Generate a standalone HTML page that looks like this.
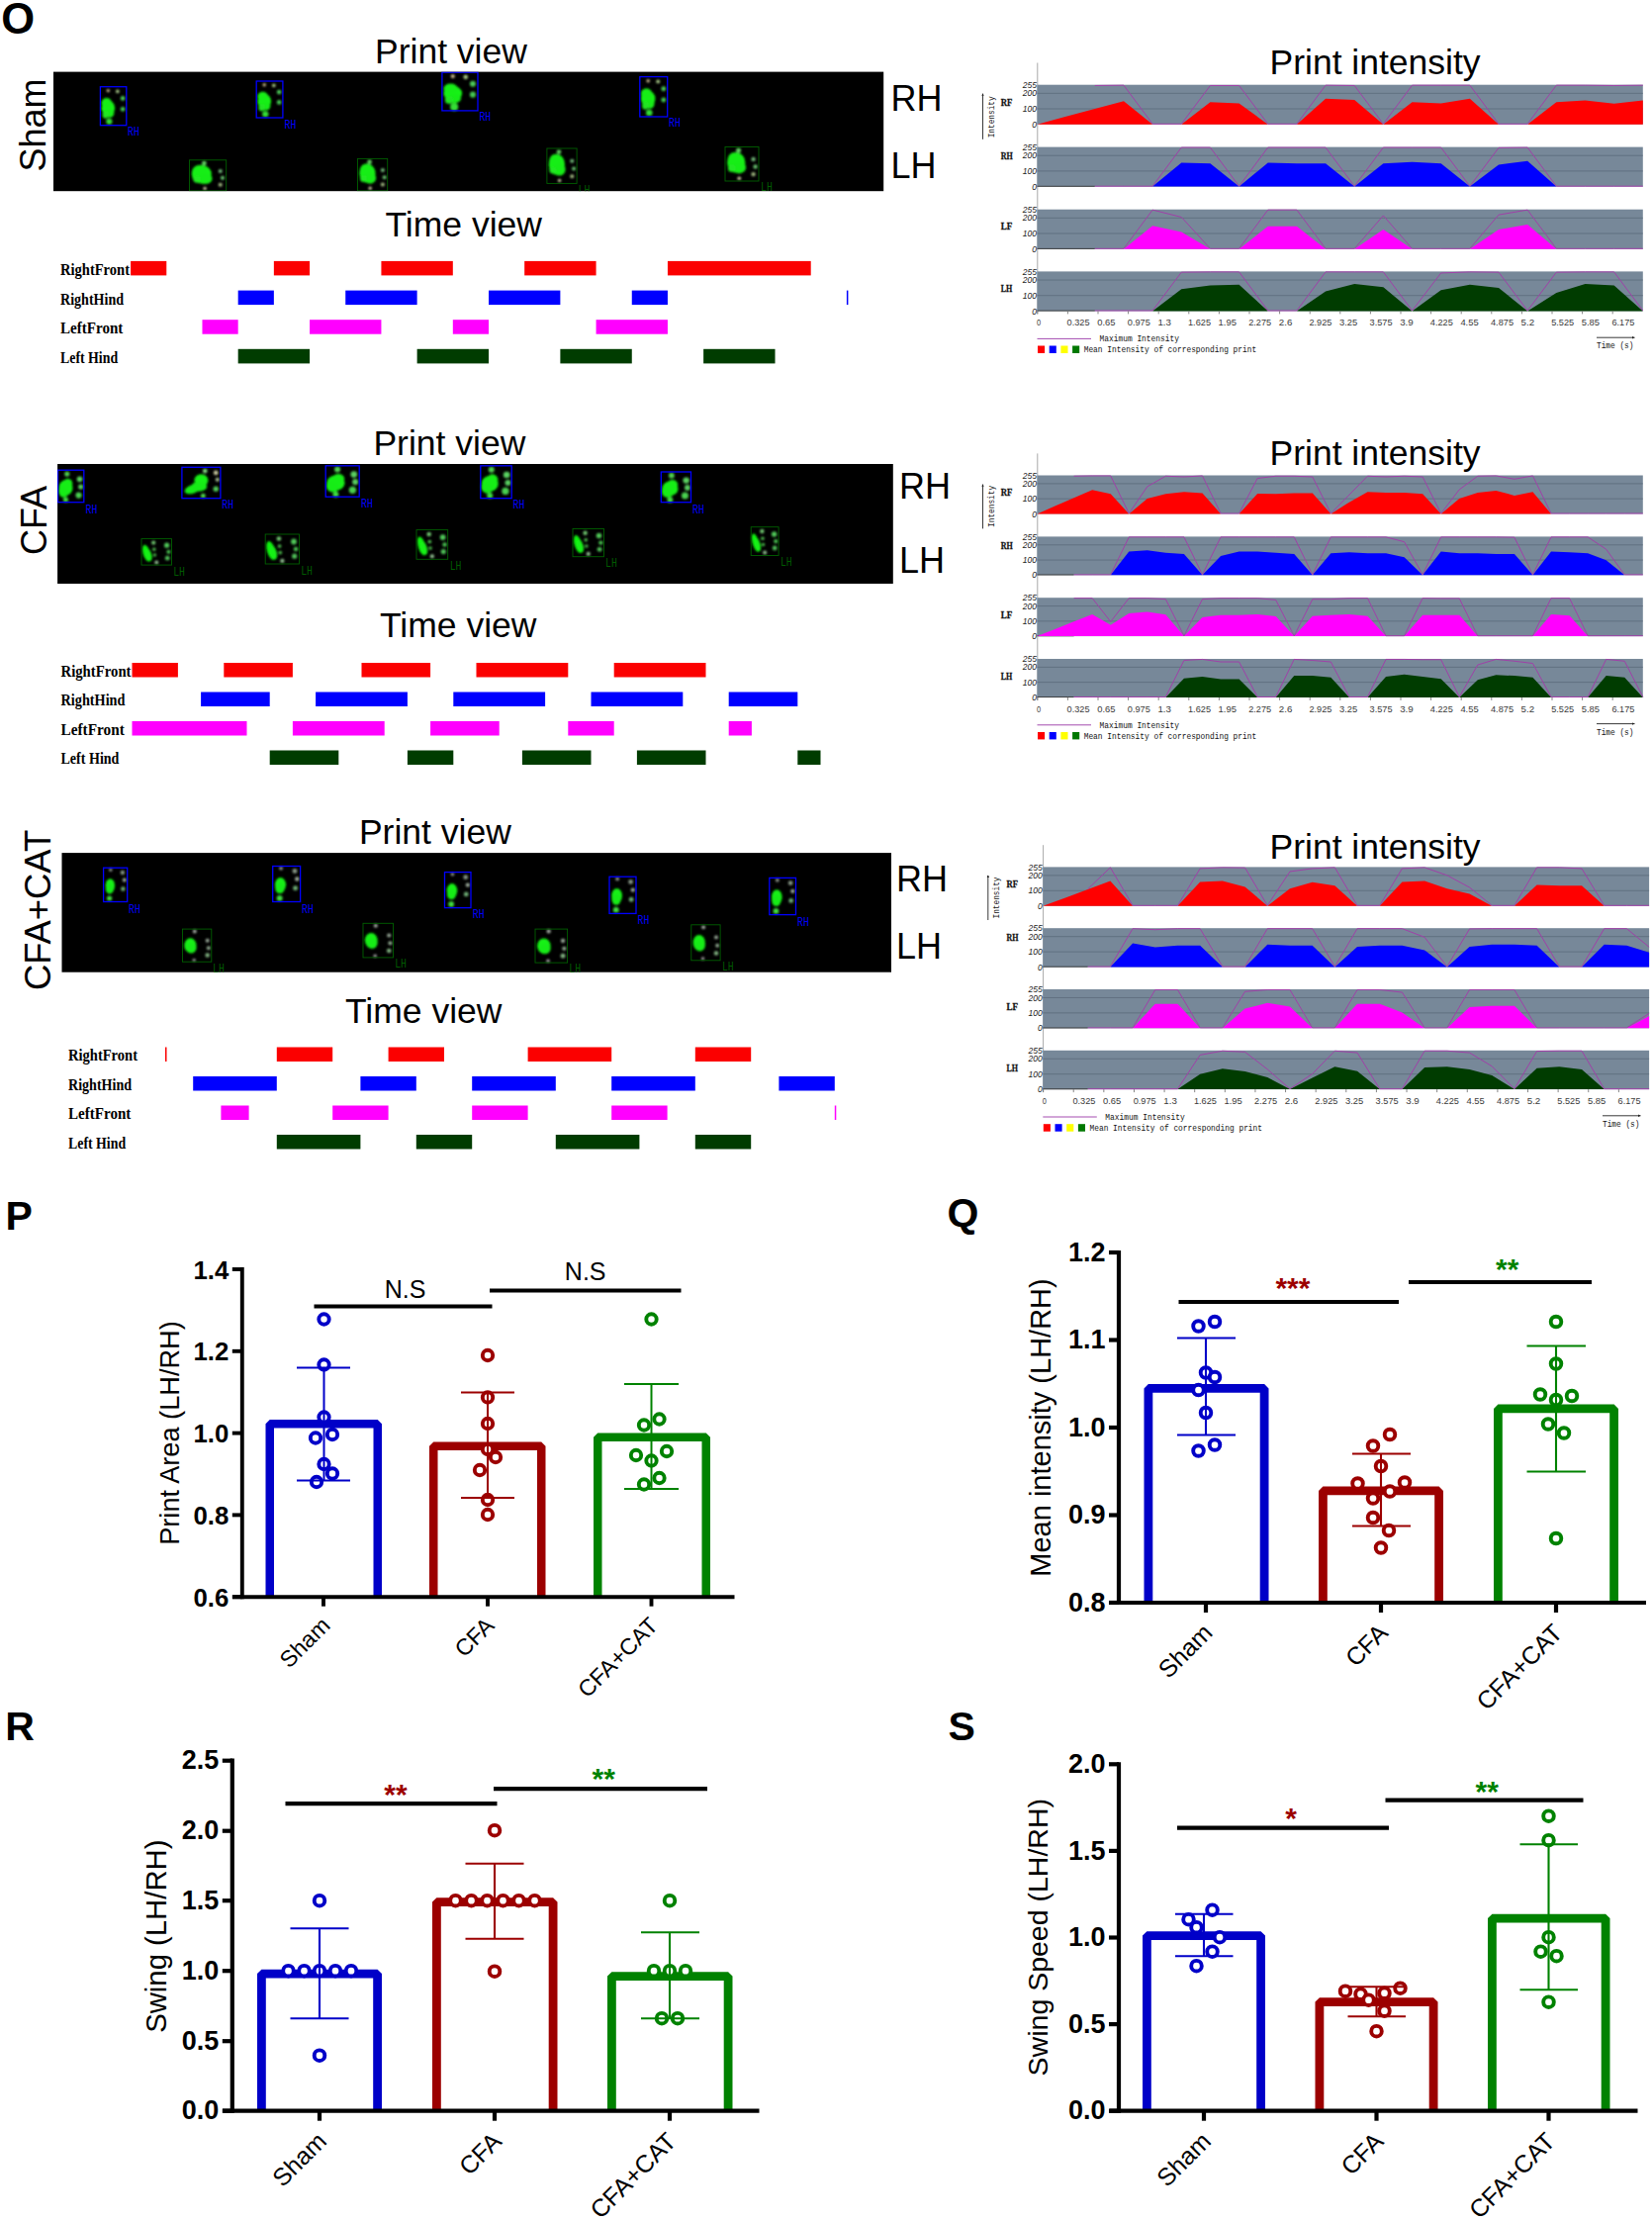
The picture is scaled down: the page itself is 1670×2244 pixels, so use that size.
<!DOCTYPE html>
<html lang="en"><head><meta charset="utf-8"><title>Figure O-S</title>
<style>html,body{margin:0;padding:0;background:#fff}svg{display:block}</style></head><body>
<svg width="1670" height="2244" viewBox="0 0 1670 2244">
<defs><filter id="b1" x="-30%" y="-30%" width="160%" height="160%"><feGaussianBlur stdDeviation="1.0"/></filter><filter id="b2" x="-10%" y="-10%" width="120%" height="120%"><feGaussianBlur stdDeviation="0.35"/></filter></defs>
<rect x="0" y="0" width="1670" height="2244" fill="#fff"/>
<text x="1.2" y="34.3" font-family='"Liberation Sans", sans-serif' font-size="43.5" font-weight="bold" font-style="normal" fill="#000" text-anchor="start" >O</text>
<text x="5.4" y="1243.2" font-family='"Liberation Sans", sans-serif' font-size="41" font-weight="bold" font-style="normal" fill="#000" text-anchor="start" >P</text>
<text x="957.6" y="1239.8" font-family='"Liberation Sans", sans-serif' font-size="41" font-weight="bold" font-style="normal" fill="#000" text-anchor="start" >Q</text>
<text x="5.2" y="1758.6" font-family='"Liberation Sans", sans-serif' font-size="41" font-weight="bold" font-style="normal" fill="#000" text-anchor="start" >R</text>
<text x="958.6" y="1758.6" font-family='"Liberation Sans", sans-serif' font-size="41" font-weight="bold" font-style="normal" fill="#000" text-anchor="start" >S</text>
<rect x="54" y="72.6" width="839.2" height="120.6" fill="#000" />
<clipPath id="pvS"><rect x="54" y="72.6" width="839.2" height="120.6"/></clipPath>
<g clip-path="url(#pvS)">
<g filter="url(#b1)">
<ellipse cx="109.32" cy="109.15" rx="6.86" ry="7.8" fill="#12f212"/>
<ellipse cx="107.74" cy="104.08" rx="5.28" ry="5.07" fill="#16ee16"/>
<ellipse cx="110.9" cy="114.22" rx="4.49" ry="4.68" fill="#18ec18"/>
<ellipse cx="106.68" cy="115.78" rx="3.17" ry="3.9" fill="#22e422"/>
<circle cx="110.38" cy="122.8" r="3.14" fill="#34de34"/>
<circle cx="124.1" cy="99.4" r="2.35" fill="#4cc858"/>
<circle cx="124.1" cy="110.32" r="2.35" fill="#44c652"/>
<circle cx="118.82" cy="92.38" r="1.82" fill="#a8c888"/>
<circle cx="109.32" cy="91.6" r="1.69" fill="#c8b890"/>
</g>
<rect x="101.4" y="87.7" width="26.4" height="39" fill="none" stroke="#0000ff" stroke-width="1.3"/>
<text x="129" y="137" font-family='"Liberation Mono", monospace' font-size="12" font-weight="normal" font-style="normal" fill="#0000ff" text-anchor="start" textLength="11.8" lengthAdjust="spacingAndGlyphs">RH</text>
<g filter="url(#b1)">
<ellipse cx="267.21" cy="102.35" rx="6.94" ry="7.4" fill="#12f212"/>
<ellipse cx="265.61" cy="97.54" rx="5.34" ry="4.81" fill="#16ee16"/>
<ellipse cx="268.81" cy="107.16" rx="4.54" ry="4.44" fill="#18ec18"/>
<ellipse cx="264.54" cy="108.64" rx="3.2" ry="3.7" fill="#22e422"/>
<circle cx="268.28" cy="115.3" r="3.17" fill="#34de34"/>
<circle cx="282.16" cy="93.1" r="2.37" fill="#4cc858"/>
<circle cx="282.16" cy="103.46" r="2.37" fill="#44c652"/>
<circle cx="276.82" cy="86.44" r="1.83" fill="#a8c888"/>
<circle cx="267.21" cy="85.7" r="1.7" fill="#c8b890"/>
</g>
<rect x="259.2" y="82" width="26.7" height="37" fill="none" stroke="#0000ff" stroke-width="1.3"/>
<text x="287.6" y="130" font-family='"Liberation Mono", monospace' font-size="12" font-weight="normal" font-style="normal" fill="#0000ff" text-anchor="start" textLength="11.8" lengthAdjust="spacingAndGlyphs">RH</text>
<g filter="url(#b1)">
<ellipse cx="457.73" cy="94.49" rx="9.39" ry="7.74" fill="#12f212"/>
<ellipse cx="455.56" cy="89.45" rx="7.22" ry="5.03" fill="#16ee16"/>
<ellipse cx="459.9" cy="99.52" rx="6.14" ry="4.64" fill="#18ec18"/>
<ellipse cx="454.12" cy="101.06" rx="4.33" ry="3.87" fill="#22e422"/>
<circle cx="459.17" cy="108.03" r="4.11" fill="#34de34"/>
<circle cx="477.95" cy="84.81" r="3.03" fill="#4cc858"/>
<circle cx="477.95" cy="95.65" r="3.03" fill="#44c652"/>
<circle cx="470.73" cy="77.84" r="2.31" fill="#a8c888"/>
<circle cx="457.73" cy="77.07" r="2.12" fill="#c8b890"/>
</g>
<rect x="446.9" y="73.2" width="36.1" height="38.7" fill="none" stroke="#0000ff" stroke-width="1.3"/>
<text x="484.4" y="122" font-family='"Liberation Mono", monospace' font-size="12" font-weight="normal" font-style="normal" fill="#0000ff" text-anchor="start" textLength="11.8" lengthAdjust="spacingAndGlyphs">RH</text>
<g filter="url(#b1)">
<ellipse cx="655.17" cy="99.82" rx="7.25" ry="8.08" fill="#12f212"/>
<ellipse cx="653.5" cy="94.57" rx="5.58" ry="5.25" fill="#16ee16"/>
<ellipse cx="656.84" cy="105.07" rx="4.74" ry="4.85" fill="#18ec18"/>
<ellipse cx="652.38" cy="106.69" rx="3.35" ry="4.04" fill="#22e422"/>
<circle cx="656.29" cy="113.96" r="3.29" fill="#34de34"/>
<circle cx="670.79" cy="89.72" r="2.45" fill="#4cc858"/>
<circle cx="670.79" cy="101.03" r="2.45" fill="#44c652"/>
<circle cx="665.21" cy="82.45" r="1.9" fill="#a8c888"/>
<circle cx="655.17" cy="81.64" r="1.76" fill="#c8b890"/>
</g>
<rect x="646.8" y="77.6" width="27.9" height="40.4" fill="none" stroke="#0000ff" stroke-width="1.3"/>
<text x="676" y="128.4" font-family='"Liberation Mono", monospace' font-size="12" font-weight="normal" font-style="normal" fill="#0000ff" text-anchor="start" textLength="11.8" lengthAdjust="spacingAndGlyphs">RH</text>
<g filter="url(#b1)">
<ellipse cx="203.78" cy="176.11" rx="10.04" ry="9.33" fill="#12f212"/>
<ellipse cx="201.92" cy="173" rx="7.44" ry="6.22" fill="#16ee16"/>
<ellipse cx="207.12" cy="180.46" rx="7.44" ry="5.6" fill="#18ec18"/>
<circle cx="198.94" cy="181.08" r="3.61" fill="#20e820"/>
<circle cx="206.38" cy="164.91" r="2.37" fill="#60d060"/>
<circle cx="222.75" cy="173" r="2.05" fill="#70b878"/>
<circle cx="224.98" cy="179.84" r="2.05" fill="#68c070"/>
<circle cx="222.75" cy="186.68" r="2.05" fill="#a0b880"/>
<circle cx="207.12" cy="190.41" r="1.74" fill="#c8c8a0"/>
</g>
<rect x="191.5" y="161.8" width="37.2" height="31.1" fill="none" stroke="#006000" stroke-width="0.9"/>
<g filter="url(#b1)">
<ellipse cx="371.47" cy="175.35" rx="8.15" ry="9.75" fill="#12f212"/>
<ellipse cx="369.96" cy="172.1" rx="6.04" ry="6.5" fill="#16ee16"/>
<ellipse cx="374.18" cy="179.9" rx="6.04" ry="5.85" fill="#18ec18"/>
<circle cx="367.54" cy="180.55" r="3.52" fill="#20e820"/>
<circle cx="373.58" cy="163.65" r="2.31" fill="#60d060"/>
<circle cx="386.87" cy="172.1" r="2.01" fill="#70b878"/>
<circle cx="388.68" cy="179.25" r="2.01" fill="#68c070"/>
<circle cx="386.87" cy="186.4" r="2.01" fill="#a0b880"/>
<circle cx="374.18" cy="190.3" r="1.71" fill="#c8c8a0"/>
</g>
<rect x="361.5" y="160.4" width="30.2" height="32.5" fill="none" stroke="#006000" stroke-width="0.9"/>
<g filter="url(#b1)">
<ellipse cx="562.87" cy="166.28" rx="8.15" ry="10.62" fill="#12f212"/>
<ellipse cx="561.36" cy="162.74" rx="6.04" ry="7.08" fill="#16ee16"/>
<ellipse cx="565.58" cy="171.24" rx="6.04" ry="6.37" fill="#18ec18"/>
<circle cx="558.94" cy="171.95" r="3.52" fill="#20e820"/>
<circle cx="564.98" cy="153.54" r="2.31" fill="#60d060"/>
<circle cx="578.27" cy="162.74" r="2.01" fill="#70b878"/>
<circle cx="580.08" cy="170.53" r="2.01" fill="#68c070"/>
<circle cx="578.27" cy="178.32" r="2.01" fill="#a0b880"/>
<circle cx="565.58" cy="182.57" r="1.71" fill="#c8c8a0"/>
</g>
<rect x="552.9" y="150" width="30.2" height="35.4" fill="none" stroke="#006000" stroke-width="0.9"/>
<text x="584.6" y="196" font-family='"Liberation Mono", monospace' font-size="12" font-weight="normal" font-style="normal" fill="#005a00" text-anchor="start" textLength="11.8" lengthAdjust="spacingAndGlyphs">LH</text>
<g filter="url(#b1)">
<ellipse cx="744.22" cy="164.37" rx="9.18" ry="10.35" fill="#12f212"/>
<ellipse cx="742.52" cy="160.92" rx="6.8" ry="6.9" fill="#16ee16"/>
<ellipse cx="747.28" cy="169.2" rx="6.8" ry="6.21" fill="#18ec18"/>
<circle cx="739.8" cy="169.89" r="3.9" fill="#20e820"/>
<circle cx="746.6" cy="151.95" r="2.54" fill="#60d060"/>
<circle cx="761.56" cy="160.92" r="2.2" fill="#70b878"/>
<circle cx="763.6" cy="168.51" r="2.2" fill="#68c070"/>
<circle cx="761.56" cy="176.1" r="2.2" fill="#a0b880"/>
<circle cx="747.28" cy="180.24" r="1.86" fill="#c8c8a0"/>
</g>
<rect x="733" y="148.5" width="34" height="34.5" fill="none" stroke="#006000" stroke-width="0.9"/>
<text x="769" y="193.4" font-family='"Liberation Mono", monospace' font-size="12" font-weight="normal" font-style="normal" fill="#005a00" text-anchor="start" textLength="11.8" lengthAdjust="spacingAndGlyphs">LH</text>
</g>
<text x="379" y="64" font-family='"Liberation Sans", sans-serif' font-size="35.5" font-weight="normal" font-style="normal" fill="#000" text-anchor="start" >Print view</text>
<text x="389.5" y="239" font-family='"Liberation Sans", sans-serif' font-size="35.5" font-weight="normal" font-style="normal" fill="#000" text-anchor="start" >Time view</text>
<text x="900.4" y="111.8" font-family='"Liberation Sans", sans-serif' font-size="36" font-weight="normal" font-style="normal" fill="#000" text-anchor="start" >RH</text>
<text x="900.4" y="179.7" font-family='"Liberation Sans", sans-serif' font-size="36" font-weight="normal" font-style="normal" fill="#000" text-anchor="start" >LH</text>
<text transform="translate(45.6 173.5) rotate(-90)" font-family='"Liberation Sans", sans-serif' font-size="36" font-weight="normal" fill="#000" text-anchor="start" >Sham</text>
<rect x="58.1" y="469" width="844.7" height="121" fill="#000" />
<clipPath id="pvC"><rect x="58.1" y="469" width="844.7" height="121"/></clipPath>
<g clip-path="url(#pvC)">
<g filter="url(#b1)">
<ellipse cx="66.46" cy="493.07" rx="7.07" ry="7.8" fill="#12f212"/>
<ellipse cx="64.36" cy="496.32" rx="5.24" ry="6.5" fill="#18ec18"/>
<ellipse cx="68.56" cy="488.85" rx="4.72" ry="5.2" fill="#16ee16"/>
<circle cx="67.77" cy="479.1" r="2.6" fill="#50d050"/>
<circle cx="80.61" cy="484.3" r="2.86" fill="#5ad060"/>
<circle cx="81.66" cy="492.1" r="2.6" fill="#58cc60"/>
<circle cx="79.56" cy="500.55" r="3.12" fill="#48d050"/>
<circle cx="66.46" cy="505.1" r="2.6" fill="#40dc40"/>
</g>
<rect x="58.6" y="475.2" width="26.2" height="32.5" fill="none" stroke="#0000ff" stroke-width="1.3"/>
<text x="86.6" y="518.8" font-family='"Liberation Mono", monospace' font-size="12" font-weight="normal" font-style="normal" fill="#0000ff" text-anchor="start" textLength="11.8" lengthAdjust="spacingAndGlyphs">RH</text>
<g filter="url(#b1)">
<ellipse cx="203.4" cy="485.49" rx="7.02" ry="6.28" fill="#12f212"/>
<ellipse cx="194.82" cy="494.28" rx="8.58" ry="4.4" fill="#16ee16" transform="rotate(-20 194.82 494.28)"/>
<ellipse cx="201.45" cy="491.77" rx="7.8" ry="5.02" fill="#18ec18"/>
<circle cx="207.3" cy="476.07" r="2.38" fill="#80d880"/>
<circle cx="218.22" cy="477.95" r="2.38" fill="#c8c8a0"/>
<circle cx="219.78" cy="484.86" r="2.07" fill="#a0b890"/>
<circle cx="218.22" cy="494.28" r="2.7" fill="#50c858"/>
<circle cx="205.35" cy="501.19" r="2.38" fill="#50d850"/>
</g>
<rect x="183.9" y="472.3" width="39" height="31.4" fill="none" stroke="#0000ff" stroke-width="1.3"/>
<text x="224.3" y="514.4" font-family='"Liberation Mono", monospace' font-size="12" font-weight="normal" font-style="normal" fill="#0000ff" text-anchor="start" textLength="11.8" lengthAdjust="spacingAndGlyphs">RH</text>
<g filter="url(#b1)">
<ellipse cx="339.4" cy="488.07" rx="9.18" ry="7.54" fill="#12f212"/>
<ellipse cx="336.68" cy="491.21" rx="6.8" ry="6.28" fill="#18ec18"/>
<ellipse cx="342.12" cy="483.99" rx="6.12" ry="5.02" fill="#16ee16"/>
<circle cx="341.1" cy="474.57" r="3.01" fill="#50d050"/>
<circle cx="357.76" cy="479.59" r="3.33" fill="#5ad060"/>
<circle cx="359.12" cy="487.13" r="3.01" fill="#58cc60"/>
<circle cx="356.4" cy="495.29" r="3.64" fill="#48d050"/>
<circle cx="339.4" cy="499.69" r="3.01" fill="#40dc40"/>
</g>
<rect x="329.2" y="470.8" width="34" height="31.4" fill="none" stroke="#0000ff" stroke-width="1.3"/>
<text x="365" y="513" font-family='"Liberation Mono", monospace' font-size="12" font-weight="normal" font-style="normal" fill="#0000ff" text-anchor="start" textLength="11.8" lengthAdjust="spacingAndGlyphs">RH</text>
<g filter="url(#b1)">
<ellipse cx="495.22" cy="488.89" rx="8.48" ry="7.9" fill="#12f212"/>
<ellipse cx="492.71" cy="492.19" rx="6.28" ry="6.58" fill="#18ec18"/>
<ellipse cx="497.73" cy="484.62" rx="5.65" ry="5.26" fill="#16ee16"/>
<circle cx="496.79" cy="474.75" r="3.01" fill="#50d050"/>
<circle cx="512.18" cy="480.01" r="3.33" fill="#5ad060"/>
<circle cx="513.43" cy="487.91" r="3.01" fill="#58cc60"/>
<circle cx="510.92" cy="496.46" r="3.64" fill="#48d050"/>
<circle cx="495.22" cy="501.07" r="3.01" fill="#40dc40"/>
</g>
<rect x="485.8" y="470.8" width="31.4" height="32.9" fill="none" stroke="#0000ff" stroke-width="1.3"/>
<text x="518.6" y="514.4" font-family='"Liberation Mono", monospace' font-size="12" font-weight="normal" font-style="normal" fill="#0000ff" text-anchor="start" textLength="11.8" lengthAdjust="spacingAndGlyphs">RH</text>
<g filter="url(#b1)">
<ellipse cx="677.36" cy="493.88" rx="8.15" ry="7.37" fill="#12f212"/>
<ellipse cx="674.94" cy="496.95" rx="6.04" ry="6.14" fill="#18ec18"/>
<ellipse cx="679.78" cy="489.89" rx="5.44" ry="4.91" fill="#16ee16"/>
<circle cx="678.87" cy="480.68" r="2.92" fill="#50d050"/>
<circle cx="693.67" cy="485.6" r="3.22" fill="#5ad060"/>
<circle cx="694.88" cy="492.96" r="2.92" fill="#58cc60"/>
<circle cx="692.46" cy="500.95" r="3.52" fill="#48d050"/>
<circle cx="677.36" cy="505.24" r="2.92" fill="#40dc40"/>
</g>
<rect x="668.3" y="477" width="30.2" height="30.7" fill="none" stroke="#0000ff" stroke-width="1.3"/>
<text x="700" y="518.8" font-family='"Liberation Mono", monospace' font-size="12" font-weight="normal" font-style="normal" fill="#0000ff" text-anchor="start" textLength="11.8" lengthAdjust="spacingAndGlyphs">RH</text>
<g filter="url(#b1)">
<ellipse cx="148.19" cy="559.18" rx="3.66" ry="8.75" fill="#10f410" transform="rotate(-16 148.19 559.18)"/>
<ellipse cx="150.32" cy="561.03" rx="3.05" ry="6.36" fill="#14f014" transform="rotate(-16 150.32 561.03)"/>
<circle cx="155.2" cy="548.58" r="2.09" fill="#70c870"/>
<circle cx="155.81" cy="555.2" r="1.69" fill="#50c050"/>
<circle cx="156.42" cy="561.03" r="1.69" fill="#48b848"/>
<circle cx="158.25" cy="568.45" r="1.96" fill="#90c090"/>
<circle cx="168.62" cy="551.23" r="2.62" fill="#50c858"/>
<circle cx="170.45" cy="557.85" r="2.09" fill="#48c050"/>
<circle cx="169.23" cy="564.21" r="2.36" fill="#50c058"/>
</g>
<rect x="143" y="544.6" width="30.5" height="26.5" fill="none" stroke="#006000" stroke-width="0.9"/>
<text x="175.2" y="582" font-family='"Liberation Mono", monospace' font-size="12" font-weight="normal" font-style="normal" fill="#005a00" text-anchor="start" textLength="11.8" lengthAdjust="spacingAndGlyphs">LH</text>
<g filter="url(#b1)">
<ellipse cx="274.03" cy="556.5" rx="4.12" ry="9.9" fill="#10f410" transform="rotate(-16 274.03 556.5)"/>
<ellipse cx="276.43" cy="558.6" rx="3.43" ry="7.2" fill="#14f014" transform="rotate(-16 276.43 558.6)"/>
<circle cx="281.92" cy="544.5" r="2.3" fill="#70c870"/>
<circle cx="282.61" cy="552" r="1.85" fill="#50c050"/>
<circle cx="283.29" cy="558.6" r="1.85" fill="#48b848"/>
<circle cx="285.35" cy="567" r="2.15" fill="#90c090"/>
<circle cx="297.01" cy="547.5" r="2.9" fill="#50c858"/>
<circle cx="299.07" cy="555" r="2.3" fill="#48c050"/>
<circle cx="297.7" cy="562.2" r="2.6" fill="#50c058"/>
</g>
<rect x="268.2" y="540" width="34.3" height="30" fill="none" stroke="#006000" stroke-width="0.9"/>
<text x="304.2" y="580.7" font-family='"Liberation Mono", monospace' font-size="12" font-weight="normal" font-style="normal" fill="#005a00" text-anchor="start" textLength="11.8" lengthAdjust="spacingAndGlyphs">LH</text>
<g filter="url(#b1)">
<ellipse cx="426.39" cy="551.93" rx="3.8" ry="9.8" fill="#10f410" transform="rotate(-16 426.39 551.93)"/>
<ellipse cx="428.61" cy="554.01" rx="3.17" ry="7.13" fill="#14f014" transform="rotate(-16 428.61 554.01)"/>
<circle cx="433.68" cy="540.06" r="2.28" fill="#70c870"/>
<circle cx="434.31" cy="547.48" r="1.84" fill="#50c050"/>
<circle cx="434.95" cy="554.01" r="1.84" fill="#48b848"/>
<circle cx="436.85" cy="562.33" r="2.13" fill="#90c090"/>
<circle cx="447.63" cy="543.02" r="2.88" fill="#50c858"/>
<circle cx="449.53" cy="550.45" r="2.28" fill="#48c050"/>
<circle cx="448.26" cy="557.58" r="2.58" fill="#50c058"/>
</g>
<rect x="421" y="535.6" width="31.7" height="29.7" fill="none" stroke="#006000" stroke-width="0.9"/>
<text x="454.7" y="576.3" font-family='"Liberation Mono", monospace' font-size="12" font-weight="normal" font-style="normal" fill="#005a00" text-anchor="start" textLength="11.8" lengthAdjust="spacingAndGlyphs">LH</text>
<g filter="url(#b1)">
<ellipse cx="584.36" cy="550.01" rx="3.78" ry="9.31" fill="#10f410" transform="rotate(-16 584.36 550.01)"/>
<ellipse cx="586.56" cy="551.98" rx="3.15" ry="6.77" fill="#14f014" transform="rotate(-16 586.56 551.98)"/>
<circle cx="591.6" cy="538.73" r="2.19" fill="#70c870"/>
<circle cx="592.23" cy="545.78" r="1.77" fill="#50c050"/>
<circle cx="592.86" cy="551.98" r="1.77" fill="#48b848"/>
<circle cx="594.75" cy="559.88" r="2.05" fill="#90c090"/>
<circle cx="605.46" cy="541.55" r="2.76" fill="#50c858"/>
<circle cx="607.35" cy="548.6" r="2.19" fill="#48c050"/>
<circle cx="606.09" cy="555.37" r="2.47" fill="#50c058"/>
</g>
<rect x="579" y="534.5" width="31.5" height="28.2" fill="none" stroke="#006000" stroke-width="0.9"/>
<text x="612" y="573.4" font-family='"Liberation Mono", monospace' font-size="12" font-weight="normal" font-style="normal" fill="#005a00" text-anchor="start" textLength="11.8" lengthAdjust="spacingAndGlyphs">LH</text>
<g filter="url(#b1)">
<ellipse cx="763.94" cy="548.54" rx="3.35" ry="9.5" fill="#10f410" transform="rotate(-16 763.94 548.54)"/>
<ellipse cx="765.9" cy="550.56" rx="2.79" ry="6.91" fill="#14f014" transform="rotate(-16 765.9 550.56)"/>
<circle cx="770.36" cy="537.02" r="2.17" fill="#70c870"/>
<circle cx="770.92" cy="544.22" r="1.76" fill="#50c050"/>
<circle cx="771.48" cy="550.56" r="1.76" fill="#48b848"/>
<circle cx="773.15" cy="558.62" r="2.03" fill="#90c090"/>
<circle cx="782.64" cy="539.9" r="2.73" fill="#50c858"/>
<circle cx="784.31" cy="547.1" r="2.17" fill="#48c050"/>
<circle cx="783.19" cy="554.01" r="2.45" fill="#50c058"/>
</g>
<rect x="759.2" y="532.7" width="27.9" height="28.8" fill="none" stroke="#006000" stroke-width="0.9"/>
<text x="788.9" y="572" font-family='"Liberation Mono", monospace' font-size="12" font-weight="normal" font-style="normal" fill="#005a00" text-anchor="start" textLength="11.8" lengthAdjust="spacingAndGlyphs">LH</text>
</g>
<text x="377.4" y="459.8" font-family='"Liberation Sans", sans-serif' font-size="35.5" font-weight="normal" font-style="normal" fill="#000" text-anchor="start" >Print view</text>
<text x="384" y="644" font-family='"Liberation Sans", sans-serif' font-size="35.5" font-weight="normal" font-style="normal" fill="#000" text-anchor="start" >Time view</text>
<text x="909" y="504.2" font-family='"Liberation Sans", sans-serif' font-size="36" font-weight="normal" font-style="normal" fill="#000" text-anchor="start" >RH</text>
<text x="909" y="578.6" font-family='"Liberation Sans", sans-serif' font-size="36" font-weight="normal" font-style="normal" fill="#000" text-anchor="start" >LH</text>
<text transform="translate(47.4 561) rotate(-90)" font-family='"Liberation Sans", sans-serif' font-size="36" font-weight="normal" fill="#000" text-anchor="start" >CFA</text>
<rect x="62.5" y="862.1" width="838.5" height="120.6" fill="#000" />
<clipPath id="pvT"><rect x="62.5" y="862.1" width="838.5" height="120.6"/></clipPath>
<g clip-path="url(#pvT)">
<g filter="url(#b1)">
<ellipse cx="111.35" cy="895.04" rx="4.82" ry="6.86" fill="#12f212"/>
<ellipse cx="110.87" cy="898.47" rx="4.1" ry="5.14" fill="#18ec18"/>
<circle cx="110.62" cy="908.07" r="2.67" fill="#40dc40"/>
<circle cx="123.88" cy="882" r="2.19" fill="#889888"/>
<circle cx="125.81" cy="889.55" r="1.95" fill="#a0b0a0"/>
<circle cx="124.36" cy="898.47" r="2.19" fill="#70b078"/>
<circle cx="111.83" cy="879.26" r="1.7" fill="#909890"/>
</g>
<rect x="104.6" y="877.2" width="24.1" height="34.3" fill="none" stroke="#0000ff" stroke-width="1.3"/>
<text x="130" y="922.6" font-family='"Liberation Mono", monospace' font-size="12" font-weight="normal" font-style="normal" fill="#0000ff" text-anchor="start" textLength="11.8" lengthAdjust="spacingAndGlyphs">RH</text>
<g filter="url(#b1)">
<ellipse cx="283.51" cy="894.22" rx="5.58" ry="7.2" fill="#12f212"/>
<ellipse cx="282.95" cy="897.82" rx="4.74" ry="5.4" fill="#18ec18"/>
<circle cx="282.68" cy="907.9" r="3.01" fill="#40dc40"/>
<circle cx="298.02" cy="880.54" r="2.45" fill="#889888"/>
<circle cx="300.25" cy="888.46" r="2.17" fill="#a0b0a0"/>
<circle cx="298.58" cy="897.82" r="2.45" fill="#70b078"/>
<circle cx="284.07" cy="877.66" r="1.9" fill="#909890"/>
</g>
<rect x="275.7" y="875.5" width="27.9" height="36" fill="none" stroke="#0000ff" stroke-width="1.3"/>
<text x="305" y="922.6" font-family='"Liberation Mono", monospace' font-size="12" font-weight="normal" font-style="normal" fill="#0000ff" text-anchor="start" textLength="11.8" lengthAdjust="spacingAndGlyphs">RH</text>
<g filter="url(#b1)">
<ellipse cx="456.92" cy="900.32" rx="5.3" ry="7.2" fill="#12f212"/>
<ellipse cx="456.39" cy="903.92" rx="4.5" ry="5.4" fill="#18ec18"/>
<circle cx="456.12" cy="914" r="2.88" fill="#40dc40"/>
<circle cx="470.7" cy="886.64" r="2.36" fill="#889888"/>
<circle cx="472.82" cy="894.56" r="2.09" fill="#a0b0a0"/>
<circle cx="471.23" cy="903.92" r="2.36" fill="#70b078"/>
<circle cx="457.45" cy="883.76" r="1.83" fill="#909890"/>
</g>
<rect x="449.5" y="881.6" width="26.5" height="36" fill="none" stroke="#0000ff" stroke-width="1.3"/>
<text x="477.8" y="928" font-family='"Liberation Mono", monospace' font-size="12" font-weight="normal" font-style="normal" fill="#0000ff" text-anchor="start" textLength="11.8" lengthAdjust="spacingAndGlyphs">RH</text>
<g filter="url(#b1)">
<ellipse cx="623.56" cy="905.54" rx="5.4" ry="7.44" fill="#12f212"/>
<ellipse cx="623.02" cy="909.26" rx="4.59" ry="5.58" fill="#18ec18"/>
<circle cx="622.75" cy="919.68" r="2.93" fill="#40dc40"/>
<circle cx="637.6" cy="891.41" r="2.39" fill="#889888"/>
<circle cx="639.76" cy="899.59" r="2.12" fill="#a0b0a0"/>
<circle cx="638.14" cy="909.26" r="2.39" fill="#70b078"/>
<circle cx="624.1" cy="888.43" r="1.85" fill="#909890"/>
</g>
<rect x="616" y="886.2" width="27" height="37.2" fill="none" stroke="#0000ff" stroke-width="1.3"/>
<text x="644.5" y="934.2" font-family='"Liberation Mono", monospace' font-size="12" font-weight="normal" font-style="normal" fill="#0000ff" text-anchor="start" textLength="11.8" lengthAdjust="spacingAndGlyphs">RH</text>
<g filter="url(#b1)">
<ellipse cx="785.28" cy="906.74" rx="5.34" ry="7.44" fill="#12f212"/>
<ellipse cx="784.74" cy="910.46" rx="4.54" ry="5.58" fill="#18ec18"/>
<circle cx="784.47" cy="920.88" r="2.9" fill="#40dc40"/>
<circle cx="799.16" cy="892.61" r="2.37" fill="#889888"/>
<circle cx="801.3" cy="900.79" r="2.1" fill="#a0b0a0"/>
<circle cx="799.69" cy="910.46" r="2.37" fill="#70b078"/>
<circle cx="785.81" cy="889.63" r="1.84" fill="#909890"/>
</g>
<rect x="777.8" y="887.4" width="26.7" height="37.2" fill="none" stroke="#0000ff" stroke-width="1.3"/>
<text x="806" y="935.6" font-family='"Liberation Mono", monospace' font-size="12" font-weight="normal" font-style="normal" fill="#0000ff" text-anchor="start" textLength="11.8" lengthAdjust="spacingAndGlyphs">RH</text>
<g filter="url(#b1)">
<ellipse cx="192.41" cy="955.65" rx="6.15" ry="7.28" fill="#12f212"/>
<ellipse cx="193.29" cy="958.3" rx="5.27" ry="5.3" fill="#18ec18"/>
<circle cx="196.81" cy="941.42" r="1.97" fill="#a0a8a0"/>
<circle cx="209.7" cy="950.69" r="1.97" fill="#98a898"/>
<circle cx="210.87" cy="958.3" r="1.97" fill="#90a890"/>
<circle cx="209.7" cy="965.58" r="2.26" fill="#80b080"/>
<circle cx="196.22" cy="970.55" r="1.67" fill="#a0a0a0"/>
</g>
<rect x="184.5" y="939.1" width="29.3" height="33.1" fill="none" stroke="#006000" stroke-width="0.9"/>
<text x="215" y="982.7" font-family='"Liberation Mono", monospace' font-size="12" font-weight="normal" font-style="normal" fill="#005a00" text-anchor="start" textLength="11.8" lengthAdjust="spacingAndGlyphs">LH</text>
<g filter="url(#b1)">
<ellipse cx="375.24" cy="950.6" rx="6.4" ry="7.61" fill="#12f212"/>
<ellipse cx="376.15" cy="953.37" rx="5.49" ry="5.54" fill="#18ec18"/>
<circle cx="379.81" cy="935.72" r="2.03" fill="#a0a8a0"/>
<circle cx="393.23" cy="945.41" r="2.03" fill="#98a898"/>
<circle cx="394.45" cy="953.37" r="2.03" fill="#90a890"/>
<circle cx="393.23" cy="960.98" r="2.33" fill="#80b080"/>
<circle cx="379.2" cy="966.17" r="1.72" fill="#a0a0a0"/>
</g>
<rect x="367" y="933.3" width="30.5" height="34.6" fill="none" stroke="#006000" stroke-width="0.9"/>
<text x="399.2" y="978.4" font-family='"Liberation Mono", monospace' font-size="12" font-weight="normal" font-style="normal" fill="#005a00" text-anchor="start" textLength="11.8" lengthAdjust="spacingAndGlyphs">LH</text>
<g filter="url(#b1)">
<ellipse cx="549.8" cy="956.1" rx="6.85" ry="7.48" fill="#12f212"/>
<ellipse cx="550.78" cy="958.82" rx="5.87" ry="5.44" fill="#18ec18"/>
<circle cx="554.69" cy="941.48" r="2.13" fill="#a0a8a0"/>
<circle cx="569.04" cy="951" r="2.13" fill="#98a898"/>
<circle cx="570.34" cy="958.82" r="2.13" fill="#90a890"/>
<circle cx="569.04" cy="966.3" r="2.46" fill="#80b080"/>
<circle cx="554.04" cy="971.4" r="1.8" fill="#a0a0a0"/>
</g>
<rect x="541" y="939.1" width="32.6" height="34" fill="none" stroke="#006000" stroke-width="0.9"/>
<text x="575.3" y="982.7" font-family='"Liberation Mono", monospace' font-size="12" font-weight="normal" font-style="normal" fill="#005a00" text-anchor="start" textLength="11.8" lengthAdjust="spacingAndGlyphs">LH</text>
<g filter="url(#b1)">
<ellipse cx="706.71" cy="952.8" rx="6.15" ry="7.92" fill="#12f212"/>
<ellipse cx="707.59" cy="955.68" rx="5.27" ry="5.76" fill="#18ec18"/>
<circle cx="711.11" cy="937.32" r="1.97" fill="#a0a8a0"/>
<circle cx="724" cy="947.4" r="1.97" fill="#98a898"/>
<circle cx="725.17" cy="955.68" r="1.97" fill="#90a890"/>
<circle cx="724" cy="963.6" r="2.26" fill="#80b080"/>
<circle cx="710.52" cy="969" r="1.67" fill="#a0a0a0"/>
</g>
<rect x="698.8" y="934.8" width="29.3" height="36" fill="none" stroke="#006000" stroke-width="0.9"/>
<text x="729.9" y="981.3" font-family='"Liberation Mono", monospace' font-size="12" font-weight="normal" font-style="normal" fill="#005a00" text-anchor="start" textLength="11.8" lengthAdjust="spacingAndGlyphs">LH</text>
</g>
<text x="362.9" y="852.8" font-family='"Liberation Sans", sans-serif' font-size="35.5" font-weight="normal" font-style="normal" fill="#000" text-anchor="start" >Print view</text>
<text x="349" y="1033.5" font-family='"Liberation Sans", sans-serif' font-size="35.5" font-weight="normal" font-style="normal" fill="#000" text-anchor="start" >Time view</text>
<text x="906" y="900.5" font-family='"Liberation Sans", sans-serif' font-size="36" font-weight="normal" font-style="normal" fill="#000" text-anchor="start" >RH</text>
<text x="906" y="968.5" font-family='"Liberation Sans", sans-serif' font-size="36" font-weight="normal" font-style="normal" fill="#000" text-anchor="start" >LH</text>
<text transform="translate(51 1001) rotate(-90)" font-family='"Liberation Sans", sans-serif' font-size="36.4" font-weight="normal" fill="#000" text-anchor="start" >CFA+CAT</text>
<rect x="132.1" y="263.9" width="36.19" height="14.5" fill="#fb0000" />
<rect x="276.86" y="263.9" width="36.19" height="14.5" fill="#fb0000" />
<rect x="385.43" y="263.9" width="72.38" height="14.5" fill="#fb0000" />
<rect x="530.19" y="263.9" width="72.38" height="14.5" fill="#fb0000" />
<rect x="674.95" y="263.9" width="144.76" height="14.5" fill="#fb0000" />
<text x="61" y="277.8" font-family='"Liberation Serif", serif' font-size="17" font-weight="bold" font-style="normal" fill="#000" text-anchor="start" textLength="70" lengthAdjust="spacingAndGlyphs">RightFront</text>
<rect x="240.67" y="293.6" width="36.19" height="14.5" fill="#0000ff" />
<rect x="349.24" y="293.6" width="72.38" height="14.5" fill="#0000ff" />
<rect x="494" y="293.6" width="72.38" height="14.5" fill="#0000ff" />
<rect x="638.76" y="293.6" width="36.19" height="14.5" fill="#0000ff" />
<rect x="855.9" y="293.6" width="1.5" height="14.5" fill="#0000ff" />
<text x="61" y="307.5" font-family='"Liberation Serif", serif' font-size="17" font-weight="bold" font-style="normal" fill="#000" text-anchor="start" textLength="64.05" lengthAdjust="spacingAndGlyphs">RightHind</text>
<rect x="204.48" y="323.2" width="36.19" height="14.5" fill="#ff00ff" />
<rect x="313.05" y="323.2" width="72.38" height="14.5" fill="#ff00ff" />
<rect x="457.81" y="323.2" width="36.19" height="14.5" fill="#ff00ff" />
<rect x="602.57" y="323.2" width="72.38" height="14.5" fill="#ff00ff" />
<text x="61" y="337.1" font-family='"Liberation Serif", serif' font-size="17" font-weight="bold" font-style="normal" fill="#000" text-anchor="start" textLength="63.35" lengthAdjust="spacingAndGlyphs">LeftFront</text>
<rect x="240.67" y="352.8" width="72.38" height="14.6" fill="#003c00" />
<rect x="421.62" y="352.8" width="72.38" height="14.6" fill="#003c00" />
<rect x="566.38" y="352.8" width="72.38" height="14.6" fill="#003c00" />
<rect x="711.14" y="352.8" width="72.38" height="14.6" fill="#003c00" />
<text x="61" y="366.8" font-family='"Liberation Serif", serif' font-size="17" font-weight="bold" font-style="normal" fill="#000" text-anchor="start" textLength="58.1" lengthAdjust="spacingAndGlyphs">Left Hind</text>
<rect x="133.5" y="670" width="46.4" height="14.5" fill="#fb0000" />
<rect x="226.3" y="670" width="69.6" height="14.5" fill="#fb0000" />
<rect x="365.5" y="670" width="69.6" height="14.5" fill="#fb0000" />
<rect x="481.5" y="670" width="92.8" height="14.5" fill="#fb0000" />
<rect x="620.7" y="670" width="92.8" height="14.5" fill="#fb0000" />
<text x="61.5" y="683.9" font-family='"Liberation Serif", serif' font-size="17" font-weight="bold" font-style="normal" fill="#000" text-anchor="start" textLength="71" lengthAdjust="spacingAndGlyphs">RightFront</text>
<rect x="203.1" y="699.5" width="69.6" height="14.5" fill="#0000ff" />
<rect x="319.1" y="699.5" width="92.8" height="14.5" fill="#0000ff" />
<rect x="458.3" y="699.5" width="92.8" height="14.5" fill="#0000ff" />
<rect x="597.5" y="699.5" width="92.8" height="14.5" fill="#0000ff" />
<rect x="736.7" y="699.5" width="69.6" height="14.5" fill="#0000ff" />
<text x="61.5" y="713.4" font-family='"Liberation Serif", serif' font-size="17" font-weight="bold" font-style="normal" fill="#000" text-anchor="start" textLength="64.97" lengthAdjust="spacingAndGlyphs">RightHind</text>
<rect x="133.5" y="729" width="116" height="14.5" fill="#ff00ff" />
<rect x="295.9" y="729" width="92.8" height="14.5" fill="#ff00ff" />
<rect x="435.1" y="729" width="69.6" height="14.5" fill="#ff00ff" />
<rect x="574.3" y="729" width="46.4" height="14.5" fill="#ff00ff" />
<rect x="736.7" y="729" width="23.2" height="14.5" fill="#ff00ff" />
<text x="61.5" y="742.9" font-family='"Liberation Serif", serif' font-size="17" font-weight="bold" font-style="normal" fill="#000" text-anchor="start" textLength="64.25" lengthAdjust="spacingAndGlyphs">LeftFront</text>
<rect x="272.7" y="758.5" width="69.6" height="14.5" fill="#003c00" />
<rect x="411.9" y="758.5" width="46.4" height="14.5" fill="#003c00" />
<rect x="527.9" y="758.5" width="69.6" height="14.5" fill="#003c00" />
<rect x="643.9" y="758.5" width="69.6" height="14.5" fill="#003c00" />
<rect x="806.3" y="758.5" width="23.2" height="14.5" fill="#003c00" />
<text x="61.5" y="772.4" font-family='"Liberation Serif", serif' font-size="17" font-weight="bold" font-style="normal" fill="#000" text-anchor="start" textLength="58.93" lengthAdjust="spacingAndGlyphs">Left Hind</text>
<rect x="167" y="1058.5" width="1.5" height="14.5" fill="#fb0000" />
<rect x="279.8" y="1058.5" width="56.4" height="14.5" fill="#fb0000" />
<rect x="392.6" y="1058.5" width="56.4" height="14.5" fill="#fb0000" />
<rect x="533.6" y="1058.5" width="84.6" height="14.5" fill="#fb0000" />
<rect x="702.8" y="1058.5" width="56.4" height="14.5" fill="#fb0000" />
<text x="69" y="1072.4" font-family='"Liberation Serif", serif' font-size="17" font-weight="bold" font-style="normal" fill="#000" text-anchor="start" textLength="70" lengthAdjust="spacingAndGlyphs">RightFront</text>
<rect x="195.2" y="1088" width="84.6" height="14.5" fill="#0000ff" />
<rect x="364.4" y="1088" width="56.4" height="14.5" fill="#0000ff" />
<rect x="477.2" y="1088" width="84.6" height="14.5" fill="#0000ff" />
<rect x="618.2" y="1088" width="84.6" height="14.5" fill="#0000ff" />
<rect x="787.4" y="1088" width="56.4" height="14.5" fill="#0000ff" />
<text x="69" y="1101.9" font-family='"Liberation Serif", serif' font-size="17" font-weight="bold" font-style="normal" fill="#000" text-anchor="start" textLength="64.05" lengthAdjust="spacingAndGlyphs">RightHind</text>
<rect x="223.4" y="1117.5" width="28.2" height="14.5" fill="#ff00ff" />
<rect x="336.2" y="1117.5" width="56.4" height="14.5" fill="#ff00ff" />
<rect x="477.2" y="1117.5" width="56.4" height="14.5" fill="#ff00ff" />
<rect x="618.2" y="1117.5" width="56.4" height="14.5" fill="#ff00ff" />
<rect x="843.8" y="1117.5" width="1.5" height="14.5" fill="#ff00ff" />
<text x="69" y="1131.4" font-family='"Liberation Serif", serif' font-size="17" font-weight="bold" font-style="normal" fill="#000" text-anchor="start" textLength="63.35" lengthAdjust="spacingAndGlyphs">LeftFront</text>
<rect x="279.8" y="1147" width="84.6" height="14.5" fill="#003c00" />
<rect x="420.8" y="1147" width="56.4" height="14.5" fill="#003c00" />
<rect x="561.8" y="1147" width="84.6" height="14.5" fill="#003c00" />
<rect x="702.8" y="1147" width="56.4" height="14.5" fill="#003c00" />
<text x="69" y="1160.9" font-family='"Liberation Serif", serif' font-size="17" font-weight="bold" font-style="normal" fill="#000" text-anchor="start" textLength="58.1" lengthAdjust="spacingAndGlyphs">Left Hind</text>
<line x1="1048.8" y1="63.5" x2="1048.8" y2="317.4" stroke="#a9a9a9" stroke-width="1" />
<rect x="1048.5" y="85.7" width="612.3" height="40" fill="#778899" />
<line x1="1048.5" y1="110.01" x2="1660.8" y2="110.01" stroke="#5a6979" stroke-width="0.75" />
<line x1="1048.5" y1="94.33" x2="1660.8" y2="94.33" stroke="#5a6979" stroke-width="0.75" />
<polygon points="1048.5,125.7 1048.5,125.7 1077.66,117.86 1106.81,110.01 1135.97,102.33 1165.13,125.7 1194.29,125.7 1223.44,103.27 1252.6,104.52 1281.76,125.7 1310.91,125.7 1340.07,99.82 1369.23,101.07 1398.39,125.7 1427.54,103.27 1456.7,104.52 1485.86,99.82 1515.01,125.7 1544.17,125.7 1573.33,103.27 1602.49,101.54 1631.64,104.84 1660.8,101.54 1660.8,125.7" fill="#ff0000"/>
<polyline points="1106.81,86.48 1135.97,86.17 1165.13,125.3 1194.29,125.3 1223.44,86.48 1252.6,86.48 1281.76,125.3 1310.91,125.3 1340.07,86.17 1369.23,86.48 1398.39,125.3 1427.54,86.17 1456.7,86.17 1485.86,86.17 1515.01,125.3 1544.17,125.3 1573.33,86.17 1602.49,86.17 1631.64,86.48 1660.8,86.17" fill="none" stroke="#a040a8" stroke-width="1"/>
<text x="1047.9" y="88.8" font-family='"Liberation Sans", sans-serif' font-size="8.8" font-weight="normal" font-style="italic" fill="#222" text-anchor="end" textLength="14.25" lengthAdjust="spacingAndGlyphs">255</text>
<text x="1047.9" y="97.43" font-family='"Liberation Sans", sans-serif' font-size="8.8" font-weight="normal" font-style="italic" fill="#222" text-anchor="end" textLength="14.25" lengthAdjust="spacingAndGlyphs">200</text>
<text x="1047.9" y="113.11" font-family='"Liberation Sans", sans-serif' font-size="8.8" font-weight="normal" font-style="italic" fill="#222" text-anchor="end" textLength="14.25" lengthAdjust="spacingAndGlyphs">100</text>
<text x="1047.9" y="128.8" font-family='"Liberation Sans", sans-serif' font-size="8.8" font-weight="normal" font-style="italic" fill="#222" text-anchor="end" textLength="4.75" lengthAdjust="spacingAndGlyphs">0</text>
<text x="1011.7" y="106.6" font-family='"Liberation Serif", serif' font-size="11" font-weight="bold" font-style="normal" fill="#111" text-anchor="start" stroke="#111" stroke-width="0.3" textLength="11.6" lengthAdjust="spacingAndGlyphs">RF</text>
<rect x="1048.5" y="148.6" width="612.3" height="40" fill="#778899" />
<line x1="1048.5" y1="172.91" x2="1660.8" y2="172.91" stroke="#5a6979" stroke-width="0.75" />
<line x1="1048.5" y1="157.23" x2="1660.8" y2="157.23" stroke="#5a6979" stroke-width="0.75" />
<line x1="1048.5" y1="188.3" x2="1106.81" y2="188.3" stroke="#333" stroke-width="0.9" />
<polygon points="1048.5,188.6 1048.5,188.6 1077.66,188.6 1106.81,188.6 1135.97,188.6 1165.13,188.6 1194.29,164.44 1223.44,165.23 1252.6,188.6 1281.76,164.44 1310.91,165.23 1340.07,165.23 1369.23,188.6 1398.39,165.23 1427.54,163.66 1456.7,165.23 1485.86,188.6 1515.01,166.48 1544.17,162.72 1573.33,188.6 1602.49,188.6 1631.64,188.6 1660.8,188.6 1660.8,188.6" fill="#0000ff"/>
<polyline points="1106.81,188.2 1135.97,188.2 1165.13,188.2 1194.29,149.07 1223.44,149.07 1252.6,188.2 1281.76,149.07 1310.91,149.07 1340.07,149.07 1369.23,188.2 1398.39,149.07 1427.54,149.07 1456.7,149.07 1485.86,188.2 1515.01,149.38 1544.17,149.07 1573.33,188.2 1602.49,188.2 1631.64,188.2 1660.8,188.2" fill="none" stroke="#a040a8" stroke-width="1"/>
<text x="1047.9" y="151.7" font-family='"Liberation Sans", sans-serif' font-size="8.8" font-weight="normal" font-style="italic" fill="#222" text-anchor="end" textLength="14.25" lengthAdjust="spacingAndGlyphs">255</text>
<text x="1047.9" y="160.33" font-family='"Liberation Sans", sans-serif' font-size="8.8" font-weight="normal" font-style="italic" fill="#222" text-anchor="end" textLength="14.25" lengthAdjust="spacingAndGlyphs">200</text>
<text x="1047.9" y="176.01" font-family='"Liberation Sans", sans-serif' font-size="8.8" font-weight="normal" font-style="italic" fill="#222" text-anchor="end" textLength="14.25" lengthAdjust="spacingAndGlyphs">100</text>
<text x="1047.9" y="191.7" font-family='"Liberation Sans", sans-serif' font-size="8.8" font-weight="normal" font-style="italic" fill="#222" text-anchor="end" textLength="4.75" lengthAdjust="spacingAndGlyphs">0</text>
<text x="1011.7" y="161.3" font-family='"Liberation Serif", serif' font-size="11" font-weight="bold" font-style="normal" fill="#111" text-anchor="start" stroke="#111" stroke-width="0.3" textLength="12" lengthAdjust="spacingAndGlyphs">RH</text>
<rect x="1048.5" y="211.7" width="612.3" height="40" fill="#778899" />
<line x1="1048.5" y1="236.01" x2="1660.8" y2="236.01" stroke="#5a6979" stroke-width="0.75" />
<line x1="1048.5" y1="220.33" x2="1660.8" y2="220.33" stroke="#5a6979" stroke-width="0.75" />
<line x1="1048.5" y1="251.4" x2="1106.81" y2="251.4" stroke="#333" stroke-width="0.9" />
<polygon points="1048.5,251.7 1048.5,251.7 1077.66,251.7 1106.81,251.7 1135.97,251.7 1165.13,228.33 1194.29,234.6 1223.44,251.7 1252.6,251.7 1281.76,228.8 1310.91,228.8 1340.07,251.7 1369.23,251.7 1398.39,232.09 1427.54,251.7 1456.7,251.7 1485.86,251.7 1515.01,232.09 1544.17,227.07 1573.33,251.7 1602.49,251.7 1631.64,251.7 1660.8,251.7 1660.8,251.7" fill="#ff00ff"/>
<polyline points="1106.81,251.3 1135.97,251.3 1165.13,212.17 1194.29,219.46 1223.44,251.3 1252.6,251.3 1281.76,212.17 1310.91,212.17 1340.07,251.3 1369.23,251.3 1398.39,217.91 1427.54,251.3 1456.7,251.3 1485.86,251.3 1515.01,217.14 1544.17,212.17 1573.33,251.3 1602.49,251.3 1631.64,251.3 1660.8,251.3" fill="none" stroke="#a040a8" stroke-width="1"/>
<text x="1047.9" y="214.8" font-family='"Liberation Sans", sans-serif' font-size="8.8" font-weight="normal" font-style="italic" fill="#222" text-anchor="end" textLength="14.25" lengthAdjust="spacingAndGlyphs">255</text>
<text x="1047.9" y="223.43" font-family='"Liberation Sans", sans-serif' font-size="8.8" font-weight="normal" font-style="italic" fill="#222" text-anchor="end" textLength="14.25" lengthAdjust="spacingAndGlyphs">200</text>
<text x="1047.9" y="239.11" font-family='"Liberation Sans", sans-serif' font-size="8.8" font-weight="normal" font-style="italic" fill="#222" text-anchor="end" textLength="14.25" lengthAdjust="spacingAndGlyphs">100</text>
<text x="1047.9" y="254.8" font-family='"Liberation Sans", sans-serif' font-size="8.8" font-weight="normal" font-style="italic" fill="#222" text-anchor="end" textLength="4.75" lengthAdjust="spacingAndGlyphs">0</text>
<text x="1011.7" y="232.2" font-family='"Liberation Serif", serif' font-size="11" font-weight="bold" font-style="normal" fill="#111" text-anchor="start" stroke="#111" stroke-width="0.3" textLength="11.6" lengthAdjust="spacingAndGlyphs">LF</text>
<rect x="1048.5" y="274.4" width="612.3" height="40" fill="#778899" />
<line x1="1048.5" y1="298.71" x2="1660.8" y2="298.71" stroke="#5a6979" stroke-width="0.75" />
<line x1="1048.5" y1="283.03" x2="1660.8" y2="283.03" stroke="#5a6979" stroke-width="0.75" />
<line x1="1048.5" y1="314.1" x2="1106.81" y2="314.1" stroke="#333" stroke-width="0.9" />
<polygon points="1048.5,314.4 1048.5,314.4 1077.66,314.4 1106.81,314.4 1135.97,314.4 1165.13,314.4 1194.29,292.28 1223.44,288.52 1252.6,287.73 1281.76,314.4 1310.91,314.4 1340.07,294.48 1369.23,286.95 1398.39,290.24 1427.54,314.4 1456.7,293.22 1485.86,287.73 1515.01,291.03 1544.17,314.4 1573.33,296.05 1602.49,286.95 1631.64,288.52 1660.8,314.4 1660.8,314.4" fill="#003c00"/>
<polyline points="1106.81,314 1135.97,314 1165.13,314 1194.29,275.18 1223.44,274.87 1252.6,274.87 1281.76,314 1310.91,314 1340.07,274.87 1369.23,274.87 1398.39,274.87 1427.54,314 1456.7,275.95 1485.86,274.87 1515.01,275.18 1544.17,314 1573.33,275.18 1602.49,274.87 1631.64,274.87 1660.8,314" fill="none" stroke="#a040a8" stroke-width="1"/>
<text x="1047.9" y="277.5" font-family='"Liberation Sans", sans-serif' font-size="8.8" font-weight="normal" font-style="italic" fill="#222" text-anchor="end" textLength="14.25" lengthAdjust="spacingAndGlyphs">255</text>
<text x="1047.9" y="286.13" font-family='"Liberation Sans", sans-serif' font-size="8.8" font-weight="normal" font-style="italic" fill="#222" text-anchor="end" textLength="14.25" lengthAdjust="spacingAndGlyphs">200</text>
<text x="1047.9" y="301.81" font-family='"Liberation Sans", sans-serif' font-size="8.8" font-weight="normal" font-style="italic" fill="#222" text-anchor="end" textLength="14.25" lengthAdjust="spacingAndGlyphs">100</text>
<text x="1047.9" y="317.5" font-family='"Liberation Sans", sans-serif' font-size="8.8" font-weight="normal" font-style="italic" fill="#222" text-anchor="end" textLength="4.75" lengthAdjust="spacingAndGlyphs">0</text>
<text x="1011.7" y="295.1" font-family='"Liberation Serif", serif' font-size="11" font-weight="bold" font-style="normal" fill="#111" text-anchor="start" stroke="#111" stroke-width="0.3" textLength="11.6" lengthAdjust="spacingAndGlyphs">LH</text>
<line x1="1048.8" y1="314.4" x2="1048.8" y2="317.4" stroke="#777" stroke-width="0.9" />
<text x="1048" y="329.3" font-family='"Liberation Sans", sans-serif' font-size="8.4" font-weight="normal" font-style="normal" fill="#3a3a3a" text-anchor="start" textLength="4.12" lengthAdjust="spacingAndGlyphs">0</text>
<line x1="1079.4" y1="314.4" x2="1079.4" y2="317.4" stroke="#777" stroke-width="0.9" />
<text x="1078.6" y="329.3" font-family='"Liberation Sans", sans-serif' font-size="8.4" font-weight="normal" font-style="normal" fill="#3a3a3a" text-anchor="start" textLength="23" lengthAdjust="spacingAndGlyphs">0.325</text>
<line x1="1110" y1="314.4" x2="1110" y2="317.4" stroke="#777" stroke-width="0.9" />
<text x="1109.2" y="329.3" font-family='"Liberation Sans", sans-serif' font-size="8.4" font-weight="normal" font-style="normal" fill="#3a3a3a" text-anchor="start" textLength="18.28" lengthAdjust="spacingAndGlyphs">0.65</text>
<line x1="1140.6" y1="314.4" x2="1140.6" y2="317.4" stroke="#777" stroke-width="0.9" />
<text x="1139.8" y="329.3" font-family='"Liberation Sans", sans-serif' font-size="8.4" font-weight="normal" font-style="normal" fill="#3a3a3a" text-anchor="start" textLength="23" lengthAdjust="spacingAndGlyphs">0.975</text>
<line x1="1171.2" y1="314.4" x2="1171.2" y2="317.4" stroke="#777" stroke-width="0.9" />
<text x="1170.4" y="329.3" font-family='"Liberation Sans", sans-serif' font-size="8.4" font-weight="normal" font-style="normal" fill="#3a3a3a" text-anchor="start" textLength="13.56" lengthAdjust="spacingAndGlyphs">1.3</text>
<line x1="1201.8" y1="314.4" x2="1201.8" y2="317.4" stroke="#777" stroke-width="0.9" />
<text x="1201" y="329.3" font-family='"Liberation Sans", sans-serif' font-size="8.4" font-weight="normal" font-style="normal" fill="#3a3a3a" text-anchor="start" textLength="23" lengthAdjust="spacingAndGlyphs">1.625</text>
<line x1="1232.4" y1="314.4" x2="1232.4" y2="317.4" stroke="#777" stroke-width="0.9" />
<text x="1231.6" y="329.3" font-family='"Liberation Sans", sans-serif' font-size="8.4" font-weight="normal" font-style="normal" fill="#3a3a3a" text-anchor="start" textLength="18.28" lengthAdjust="spacingAndGlyphs">1.95</text>
<line x1="1263" y1="314.4" x2="1263" y2="317.4" stroke="#777" stroke-width="0.9" />
<text x="1262.2" y="329.3" font-family='"Liberation Sans", sans-serif' font-size="8.4" font-weight="normal" font-style="normal" fill="#3a3a3a" text-anchor="start" textLength="23" lengthAdjust="spacingAndGlyphs">2.275</text>
<line x1="1293.6" y1="314.4" x2="1293.6" y2="317.4" stroke="#777" stroke-width="0.9" />
<text x="1292.8" y="329.3" font-family='"Liberation Sans", sans-serif' font-size="8.4" font-weight="normal" font-style="normal" fill="#3a3a3a" text-anchor="start" textLength="13.56" lengthAdjust="spacingAndGlyphs">2.6</text>
<line x1="1324.2" y1="314.4" x2="1324.2" y2="317.4" stroke="#777" stroke-width="0.9" />
<text x="1323.4" y="329.3" font-family='"Liberation Sans", sans-serif' font-size="8.4" font-weight="normal" font-style="normal" fill="#3a3a3a" text-anchor="start" textLength="23" lengthAdjust="spacingAndGlyphs">2.925</text>
<line x1="1354.8" y1="314.4" x2="1354.8" y2="317.4" stroke="#777" stroke-width="0.9" />
<text x="1354" y="329.3" font-family='"Liberation Sans", sans-serif' font-size="8.4" font-weight="normal" font-style="normal" fill="#3a3a3a" text-anchor="start" textLength="18.28" lengthAdjust="spacingAndGlyphs">3.25</text>
<line x1="1385.4" y1="314.4" x2="1385.4" y2="317.4" stroke="#777" stroke-width="0.9" />
<text x="1384.6" y="329.3" font-family='"Liberation Sans", sans-serif' font-size="8.4" font-weight="normal" font-style="normal" fill="#3a3a3a" text-anchor="start" textLength="23" lengthAdjust="spacingAndGlyphs">3.575</text>
<line x1="1416" y1="314.4" x2="1416" y2="317.4" stroke="#777" stroke-width="0.9" />
<text x="1415.2" y="329.3" font-family='"Liberation Sans", sans-serif' font-size="8.4" font-weight="normal" font-style="normal" fill="#3a3a3a" text-anchor="start" textLength="13.56" lengthAdjust="spacingAndGlyphs">3.9</text>
<line x1="1446.6" y1="314.4" x2="1446.6" y2="317.4" stroke="#777" stroke-width="0.9" />
<text x="1445.8" y="329.3" font-family='"Liberation Sans", sans-serif' font-size="8.4" font-weight="normal" font-style="normal" fill="#3a3a3a" text-anchor="start" textLength="23" lengthAdjust="spacingAndGlyphs">4.225</text>
<line x1="1477.2" y1="314.4" x2="1477.2" y2="317.4" stroke="#777" stroke-width="0.9" />
<text x="1476.4" y="329.3" font-family='"Liberation Sans", sans-serif' font-size="8.4" font-weight="normal" font-style="normal" fill="#3a3a3a" text-anchor="start" textLength="18.28" lengthAdjust="spacingAndGlyphs">4.55</text>
<line x1="1507.8" y1="314.4" x2="1507.8" y2="317.4" stroke="#777" stroke-width="0.9" />
<text x="1507" y="329.3" font-family='"Liberation Sans", sans-serif' font-size="8.4" font-weight="normal" font-style="normal" fill="#3a3a3a" text-anchor="start" textLength="23" lengthAdjust="spacingAndGlyphs">4.875</text>
<line x1="1538.4" y1="314.4" x2="1538.4" y2="317.4" stroke="#777" stroke-width="0.9" />
<text x="1537.6" y="329.3" font-family='"Liberation Sans", sans-serif' font-size="8.4" font-weight="normal" font-style="normal" fill="#3a3a3a" text-anchor="start" textLength="13.56" lengthAdjust="spacingAndGlyphs">5.2</text>
<line x1="1569" y1="314.4" x2="1569" y2="317.4" stroke="#777" stroke-width="0.9" />
<text x="1568.2" y="329.3" font-family='"Liberation Sans", sans-serif' font-size="8.4" font-weight="normal" font-style="normal" fill="#3a3a3a" text-anchor="start" textLength="23" lengthAdjust="spacingAndGlyphs">5.525</text>
<line x1="1599.6" y1="314.4" x2="1599.6" y2="317.4" stroke="#777" stroke-width="0.9" />
<text x="1598.8" y="329.3" font-family='"Liberation Sans", sans-serif' font-size="8.4" font-weight="normal" font-style="normal" fill="#3a3a3a" text-anchor="start" textLength="18.28" lengthAdjust="spacingAndGlyphs">5.85</text>
<line x1="1630.2" y1="314.4" x2="1630.2" y2="317.4" stroke="#777" stroke-width="0.9" />
<text x="1629.4" y="329.3" font-family='"Liberation Sans", sans-serif' font-size="8.4" font-weight="normal" font-style="normal" fill="#3a3a3a" text-anchor="start" textLength="23" lengthAdjust="spacingAndGlyphs">6.175</text>
<line x1="1048.5" y1="342.4" x2="1103" y2="342.4" stroke="#a44cb0" stroke-width="1" />
<text x="1111.5" y="345.4" font-family='"Liberation Mono", monospace' font-size="8.2" font-weight="normal" font-style="normal" fill="#111" text-anchor="start" textLength="80.5" lengthAdjust="spacingAndGlyphs">Maximum Intensity</text>
<rect x="1049" y="349.5" width="7.1" height="7.5" fill="#ff0000" />
<rect x="1060.7" y="349.5" width="7.1" height="7.5" fill="#0000ff" />
<rect x="1072.4" y="349.5" width="7.1" height="7.5" fill="#ffff00" />
<rect x="1084.1" y="349.5" width="7.1" height="7.5" fill="#007800" />
<text x="1095.7" y="356.4" font-family='"Liberation Mono", monospace' font-size="8.2" font-weight="normal" font-style="normal" fill="#111" text-anchor="start" textLength="174.5" lengthAdjust="spacingAndGlyphs">Mean Intensity of corresponding print</text>
<line x1="1614" y1="341.2" x2="1652.5" y2="341.2" stroke="#222" stroke-width="0.9" />
<polygon points="1652.5,341.2 1650,340 1650,342.4" fill="#222"/>
<text x="1614" y="352" font-family='"Liberation Mono", monospace' font-size="8.2" font-weight="normal" font-style="normal" fill="#111" text-anchor="start" textLength="37.5" lengthAdjust="spacingAndGlyphs">Time (s)</text>
<line x1="993.5" y1="94.8" x2="993.5" y2="140.8" stroke="#222" stroke-width="0.9" />
<polygon points="993.5,94.3 992.3,96.8 994.7,96.8" fill="#222"/>
<text transform="translate(1005 139.3) rotate(-90)" font-family='"Liberation Mono", monospace' font-size="8.2" font-weight="normal" fill="#111" text-anchor="start" textLength="42" lengthAdjust="spacingAndGlyphs">Intensity</text>
<text x="1283.5" y="74.7" font-family='"Liberation Sans", sans-serif' font-size="35.5" font-weight="normal" font-style="normal" fill="#000" text-anchor="start" >Print intensity</text>
<line x1="1048.8" y1="458.4" x2="1048.8" y2="707.9" stroke="#a9a9a9" stroke-width="1" />
<rect x="1048.5" y="480.5" width="612.3" height="38.9" fill="#778899" />
<line x1="1048.5" y1="504.15" x2="1660.8" y2="504.15" stroke="#5a6979" stroke-width="0.75" />
<line x1="1048.5" y1="488.89" x2="1660.8" y2="488.89" stroke="#5a6979" stroke-width="0.75" />
<polygon points="1048.5,519.4 1048.5,519.4 1067.05,511.31 1085.61,503.23 1104.16,495.14 1122.72,499.26 1141.27,519.4 1159.83,503.99 1178.38,499.26 1196.94,497.28 1215.49,498.5 1234.05,519.4 1252.6,519.4 1271.15,498.96 1289.71,499.26 1308.26,498.5 1326.82,498.5 1345.37,519.4 1363.93,507.65 1382.48,497.28 1401.04,498.04 1419.59,498.04 1438.15,499.26 1456.7,519.4 1475.25,503.99 1493.81,498.04 1512.36,495.91 1530.92,500.94 1549.47,497.28 1568.03,519.4 1586.58,519.4 1605.14,519.4 1623.69,519.4 1642.25,519.4 1660.8,519.4 1660.8,519.4" fill="#ff0000"/>
<polyline points="1085.61,481.25 1104.16,480.95 1122.72,480.95 1141.27,519 1159.83,491.82 1178.38,481.25 1196.94,482.01 1215.49,480.95 1234.05,519 1252.6,519 1271.15,483.52 1289.71,481.25 1308.26,481.25 1326.82,482.01 1345.37,519 1363.93,500.13 1382.48,481.25 1401.04,482.01 1419.59,481.25 1438.15,482.01 1456.7,519 1475.25,494.84 1493.81,481.25 1512.36,480.95 1530.92,484.27 1549.47,480.95 1568.03,519 1586.58,519 1605.14,519 1623.69,519 1642.25,519 1660.8,519" fill="none" stroke="#a040a8" stroke-width="1"/>
<text x="1047.9" y="483.6" font-family='"Liberation Sans", sans-serif' font-size="8.8" font-weight="normal" font-style="italic" fill="#222" text-anchor="end" textLength="14.25" lengthAdjust="spacingAndGlyphs">255</text>
<text x="1047.9" y="491.99" font-family='"Liberation Sans", sans-serif' font-size="8.8" font-weight="normal" font-style="italic" fill="#222" text-anchor="end" textLength="14.25" lengthAdjust="spacingAndGlyphs">200</text>
<text x="1047.9" y="507.25" font-family='"Liberation Sans", sans-serif' font-size="8.8" font-weight="normal" font-style="italic" fill="#222" text-anchor="end" textLength="14.25" lengthAdjust="spacingAndGlyphs">100</text>
<text x="1047.9" y="522.5" font-family='"Liberation Sans", sans-serif' font-size="8.8" font-weight="normal" font-style="italic" fill="#222" text-anchor="end" textLength="4.75" lengthAdjust="spacingAndGlyphs">0</text>
<text x="1011.7" y="501.4" font-family='"Liberation Serif", serif' font-size="11" font-weight="bold" font-style="normal" fill="#111" text-anchor="start" stroke="#111" stroke-width="0.3" textLength="11.6" lengthAdjust="spacingAndGlyphs">RF</text>
<rect x="1048.5" y="542.4" width="612.3" height="38.9" fill="#778899" />
<line x1="1048.5" y1="566.05" x2="1660.8" y2="566.05" stroke="#5a6979" stroke-width="0.75" />
<line x1="1048.5" y1="550.79" x2="1660.8" y2="550.79" stroke="#5a6979" stroke-width="0.75" />
<line x1="1048.5" y1="581" x2="1085.61" y2="581" stroke="#333" stroke-width="0.9" />
<polygon points="1048.5,581.3 1048.5,581.3 1067.05,581.3 1085.61,581.3 1104.16,581.3 1122.72,581.3 1141.27,557.5 1159.83,556.13 1178.38,558.72 1196.94,559.94 1215.49,581.3 1234.05,562.08 1252.6,557.5 1271.15,557.5 1289.71,558.72 1308.26,559.94 1326.82,581.3 1345.37,559.18 1363.93,558.27 1382.48,559.18 1401.04,559.18 1419.59,563.3 1438.15,581.3 1456.7,557.5 1475.25,559.18 1493.81,559.18 1512.36,559.94 1530.92,559.94 1549.47,581.3 1568.03,557.5 1586.58,558.27 1605.14,559.18 1623.69,566.2 1642.25,581.3 1660.8,581.3 1660.8,581.3" fill="#0000ff"/>
<polyline points="1085.61,580.9 1104.16,580.9 1122.72,580.9 1141.27,542.85 1159.83,542.85 1178.38,542.85 1196.94,542.85 1215.49,580.9 1234.05,542.85 1252.6,542.85 1271.15,542.85 1289.71,542.85 1308.26,542.85 1326.82,580.9 1345.37,542.85 1363.93,542.85 1382.48,542.85 1401.04,542.85 1419.59,547.68 1438.15,580.9 1456.7,542.85 1475.25,542.85 1493.81,542.85 1512.36,542.85 1530.92,543.15 1549.47,580.9 1568.03,542.85 1586.58,542.85 1605.14,542.85 1623.69,555.23 1642.25,580.9 1660.8,580.9" fill="none" stroke="#a040a8" stroke-width="1"/>
<text x="1047.9" y="545.5" font-family='"Liberation Sans", sans-serif' font-size="8.8" font-weight="normal" font-style="italic" fill="#222" text-anchor="end" textLength="14.25" lengthAdjust="spacingAndGlyphs">255</text>
<text x="1047.9" y="553.89" font-family='"Liberation Sans", sans-serif' font-size="8.8" font-weight="normal" font-style="italic" fill="#222" text-anchor="end" textLength="14.25" lengthAdjust="spacingAndGlyphs">200</text>
<text x="1047.9" y="569.15" font-family='"Liberation Sans", sans-serif' font-size="8.8" font-weight="normal" font-style="italic" fill="#222" text-anchor="end" textLength="14.25" lengthAdjust="spacingAndGlyphs">100</text>
<text x="1047.9" y="584.4" font-family='"Liberation Sans", sans-serif' font-size="8.8" font-weight="normal" font-style="italic" fill="#222" text-anchor="end" textLength="4.75" lengthAdjust="spacingAndGlyphs">0</text>
<text x="1011.7" y="555.1" font-family='"Liberation Serif", serif' font-size="11" font-weight="bold" font-style="normal" fill="#111" text-anchor="start" stroke="#111" stroke-width="0.3" textLength="12" lengthAdjust="spacingAndGlyphs">RH</text>
<rect x="1048.5" y="604.2" width="612.3" height="38.9" fill="#778899" />
<line x1="1048.5" y1="627.85" x2="1660.8" y2="627.85" stroke="#5a6979" stroke-width="0.75" />
<line x1="1048.5" y1="612.59" x2="1660.8" y2="612.59" stroke="#5a6979" stroke-width="0.75" />
<line x1="1048.5" y1="642.8" x2="1085.61" y2="642.8" stroke="#333" stroke-width="0.9" />
<polygon points="1048.5,643.1 1048.5,643.1 1067.05,635.78 1085.61,628.3 1104.16,620.98 1122.72,631.81 1141.27,620.07 1159.83,618.39 1178.38,621.29 1196.94,643.1 1215.49,623.88 1234.05,621.74 1252.6,621.74 1271.15,620.98 1289.71,622.96 1308.26,643.1 1326.82,622.66 1345.37,621.74 1363.93,620.98 1382.48,622.66 1401.04,643.1 1419.59,643.1 1438.15,621.74 1456.7,621.74 1475.25,621.74 1493.81,643.1 1512.36,643.1 1530.92,643.1 1549.47,643.1 1568.03,620.98 1586.58,622.2 1605.14,643.1 1623.69,643.1 1642.25,643.1 1660.8,643.1 1660.8,643.1" fill="#ff00ff"/>
<polyline points="1085.61,604.65 1104.16,604.65 1122.72,628.36 1141.27,604.65 1159.83,604.65 1178.38,605.71 1196.94,642.7 1215.49,605.71 1234.05,604.65 1252.6,604.65 1271.15,604.65 1289.71,606.46 1308.26,642.7 1326.82,605.71 1345.37,605.71 1363.93,604.65 1382.48,604.65 1401.04,642.7 1419.59,642.7 1438.15,604.65 1456.7,604.95 1475.25,604.95 1493.81,642.7 1512.36,642.7 1530.92,642.7 1549.47,642.7 1568.03,604.65 1586.58,604.65 1605.14,642.7 1623.69,642.7 1642.25,642.7 1660.8,642.7" fill="none" stroke="#a040a8" stroke-width="1"/>
<text x="1047.9" y="607.3" font-family='"Liberation Sans", sans-serif' font-size="8.8" font-weight="normal" font-style="italic" fill="#222" text-anchor="end" textLength="14.25" lengthAdjust="spacingAndGlyphs">255</text>
<text x="1047.9" y="615.69" font-family='"Liberation Sans", sans-serif' font-size="8.8" font-weight="normal" font-style="italic" fill="#222" text-anchor="end" textLength="14.25" lengthAdjust="spacingAndGlyphs">200</text>
<text x="1047.9" y="630.95" font-family='"Liberation Sans", sans-serif' font-size="8.8" font-weight="normal" font-style="italic" fill="#222" text-anchor="end" textLength="14.25" lengthAdjust="spacingAndGlyphs">100</text>
<text x="1047.9" y="646.2" font-family='"Liberation Sans", sans-serif' font-size="8.8" font-weight="normal" font-style="italic" fill="#222" text-anchor="end" textLength="4.75" lengthAdjust="spacingAndGlyphs">0</text>
<text x="1011.7" y="624.7" font-family='"Liberation Serif", serif' font-size="11" font-weight="bold" font-style="normal" fill="#111" text-anchor="start" stroke="#111" stroke-width="0.3" textLength="11.6" lengthAdjust="spacingAndGlyphs">LF</text>
<rect x="1048.5" y="666" width="612.3" height="38.9" fill="#778899" />
<line x1="1048.5" y1="689.65" x2="1660.8" y2="689.65" stroke="#5a6979" stroke-width="0.75" />
<line x1="1048.5" y1="674.39" x2="1660.8" y2="674.39" stroke="#5a6979" stroke-width="0.75" />
<line x1="1048.5" y1="704.6" x2="1085.61" y2="704.6" stroke="#333" stroke-width="0.9" />
<polygon points="1048.5,704.9 1048.5,704.9 1067.05,704.9 1085.61,704.9 1104.16,704.9 1122.72,704.9 1141.27,704.9 1159.83,704.9 1178.38,704.9 1196.94,685.68 1215.49,684 1234.05,686.44 1252.6,686.44 1271.15,704.9 1289.71,704.9 1308.26,683.09 1326.82,683.09 1345.37,684.76 1363.93,704.9 1382.48,704.9 1401.04,684 1419.59,681.87 1438.15,684 1456.7,686.14 1475.25,704.9 1493.81,687.36 1512.36,682.32 1530.92,683.09 1549.47,684.76 1568.03,704.9 1586.58,704.9 1605.14,704.9 1623.69,683.09 1642.25,684.76 1660.8,704.9 1660.8,704.9" fill="#003c00"/>
<polyline points="1085.61,704.5 1104.16,704.5 1122.72,704.5 1141.27,704.5 1159.83,704.5 1178.38,704.5 1196.94,667.51 1215.49,666.45 1234.05,669.02 1252.6,669.02 1271.15,704.5 1289.71,704.5 1308.26,666.45 1326.82,667.51 1345.37,669.02 1363.93,704.5 1382.48,704.5 1401.04,666.45 1419.59,666.45 1438.15,666.75 1456.7,666.75 1475.25,704.5 1493.81,672.04 1512.36,666.45 1530.92,668.26 1549.47,670.53 1568.03,704.5 1586.58,704.5 1605.14,704.5 1623.69,666.45 1642.25,668.26 1660.8,704.5" fill="none" stroke="#a040a8" stroke-width="1"/>
<text x="1047.9" y="669.1" font-family='"Liberation Sans", sans-serif' font-size="8.8" font-weight="normal" font-style="italic" fill="#222" text-anchor="end" textLength="14.25" lengthAdjust="spacingAndGlyphs">255</text>
<text x="1047.9" y="677.49" font-family='"Liberation Sans", sans-serif' font-size="8.8" font-weight="normal" font-style="italic" fill="#222" text-anchor="end" textLength="14.25" lengthAdjust="spacingAndGlyphs">200</text>
<text x="1047.9" y="692.75" font-family='"Liberation Sans", sans-serif' font-size="8.8" font-weight="normal" font-style="italic" fill="#222" text-anchor="end" textLength="14.25" lengthAdjust="spacingAndGlyphs">100</text>
<text x="1047.9" y="708" font-family='"Liberation Sans", sans-serif' font-size="8.8" font-weight="normal" font-style="italic" fill="#222" text-anchor="end" textLength="4.75" lengthAdjust="spacingAndGlyphs">0</text>
<text x="1011.7" y="686.7" font-family='"Liberation Serif", serif' font-size="11" font-weight="bold" font-style="normal" fill="#111" text-anchor="start" stroke="#111" stroke-width="0.3" textLength="11.6" lengthAdjust="spacingAndGlyphs">LH</text>
<line x1="1048.8" y1="704.9" x2="1048.8" y2="707.9" stroke="#777" stroke-width="0.9" />
<text x="1048" y="720.2" font-family='"Liberation Sans", sans-serif' font-size="8.4" font-weight="normal" font-style="normal" fill="#3a3a3a" text-anchor="start" textLength="4.12" lengthAdjust="spacingAndGlyphs">0</text>
<line x1="1079.4" y1="704.9" x2="1079.4" y2="707.9" stroke="#777" stroke-width="0.9" />
<text x="1078.6" y="720.2" font-family='"Liberation Sans", sans-serif' font-size="8.4" font-weight="normal" font-style="normal" fill="#3a3a3a" text-anchor="start" textLength="23" lengthAdjust="spacingAndGlyphs">0.325</text>
<line x1="1110" y1="704.9" x2="1110" y2="707.9" stroke="#777" stroke-width="0.9" />
<text x="1109.2" y="720.2" font-family='"Liberation Sans", sans-serif' font-size="8.4" font-weight="normal" font-style="normal" fill="#3a3a3a" text-anchor="start" textLength="18.28" lengthAdjust="spacingAndGlyphs">0.65</text>
<line x1="1140.6" y1="704.9" x2="1140.6" y2="707.9" stroke="#777" stroke-width="0.9" />
<text x="1139.8" y="720.2" font-family='"Liberation Sans", sans-serif' font-size="8.4" font-weight="normal" font-style="normal" fill="#3a3a3a" text-anchor="start" textLength="23" lengthAdjust="spacingAndGlyphs">0.975</text>
<line x1="1171.2" y1="704.9" x2="1171.2" y2="707.9" stroke="#777" stroke-width="0.9" />
<text x="1170.4" y="720.2" font-family='"Liberation Sans", sans-serif' font-size="8.4" font-weight="normal" font-style="normal" fill="#3a3a3a" text-anchor="start" textLength="13.56" lengthAdjust="spacingAndGlyphs">1.3</text>
<line x1="1201.8" y1="704.9" x2="1201.8" y2="707.9" stroke="#777" stroke-width="0.9" />
<text x="1201" y="720.2" font-family='"Liberation Sans", sans-serif' font-size="8.4" font-weight="normal" font-style="normal" fill="#3a3a3a" text-anchor="start" textLength="23" lengthAdjust="spacingAndGlyphs">1.625</text>
<line x1="1232.4" y1="704.9" x2="1232.4" y2="707.9" stroke="#777" stroke-width="0.9" />
<text x="1231.6" y="720.2" font-family='"Liberation Sans", sans-serif' font-size="8.4" font-weight="normal" font-style="normal" fill="#3a3a3a" text-anchor="start" textLength="18.28" lengthAdjust="spacingAndGlyphs">1.95</text>
<line x1="1263" y1="704.9" x2="1263" y2="707.9" stroke="#777" stroke-width="0.9" />
<text x="1262.2" y="720.2" font-family='"Liberation Sans", sans-serif' font-size="8.4" font-weight="normal" font-style="normal" fill="#3a3a3a" text-anchor="start" textLength="23" lengthAdjust="spacingAndGlyphs">2.275</text>
<line x1="1293.6" y1="704.9" x2="1293.6" y2="707.9" stroke="#777" stroke-width="0.9" />
<text x="1292.8" y="720.2" font-family='"Liberation Sans", sans-serif' font-size="8.4" font-weight="normal" font-style="normal" fill="#3a3a3a" text-anchor="start" textLength="13.56" lengthAdjust="spacingAndGlyphs">2.6</text>
<line x1="1324.2" y1="704.9" x2="1324.2" y2="707.9" stroke="#777" stroke-width="0.9" />
<text x="1323.4" y="720.2" font-family='"Liberation Sans", sans-serif' font-size="8.4" font-weight="normal" font-style="normal" fill="#3a3a3a" text-anchor="start" textLength="23" lengthAdjust="spacingAndGlyphs">2.925</text>
<line x1="1354.8" y1="704.9" x2="1354.8" y2="707.9" stroke="#777" stroke-width="0.9" />
<text x="1354" y="720.2" font-family='"Liberation Sans", sans-serif' font-size="8.4" font-weight="normal" font-style="normal" fill="#3a3a3a" text-anchor="start" textLength="18.28" lengthAdjust="spacingAndGlyphs">3.25</text>
<line x1="1385.4" y1="704.9" x2="1385.4" y2="707.9" stroke="#777" stroke-width="0.9" />
<text x="1384.6" y="720.2" font-family='"Liberation Sans", sans-serif' font-size="8.4" font-weight="normal" font-style="normal" fill="#3a3a3a" text-anchor="start" textLength="23" lengthAdjust="spacingAndGlyphs">3.575</text>
<line x1="1416" y1="704.9" x2="1416" y2="707.9" stroke="#777" stroke-width="0.9" />
<text x="1415.2" y="720.2" font-family='"Liberation Sans", sans-serif' font-size="8.4" font-weight="normal" font-style="normal" fill="#3a3a3a" text-anchor="start" textLength="13.56" lengthAdjust="spacingAndGlyphs">3.9</text>
<line x1="1446.6" y1="704.9" x2="1446.6" y2="707.9" stroke="#777" stroke-width="0.9" />
<text x="1445.8" y="720.2" font-family='"Liberation Sans", sans-serif' font-size="8.4" font-weight="normal" font-style="normal" fill="#3a3a3a" text-anchor="start" textLength="23" lengthAdjust="spacingAndGlyphs">4.225</text>
<line x1="1477.2" y1="704.9" x2="1477.2" y2="707.9" stroke="#777" stroke-width="0.9" />
<text x="1476.4" y="720.2" font-family='"Liberation Sans", sans-serif' font-size="8.4" font-weight="normal" font-style="normal" fill="#3a3a3a" text-anchor="start" textLength="18.28" lengthAdjust="spacingAndGlyphs">4.55</text>
<line x1="1507.8" y1="704.9" x2="1507.8" y2="707.9" stroke="#777" stroke-width="0.9" />
<text x="1507" y="720.2" font-family='"Liberation Sans", sans-serif' font-size="8.4" font-weight="normal" font-style="normal" fill="#3a3a3a" text-anchor="start" textLength="23" lengthAdjust="spacingAndGlyphs">4.875</text>
<line x1="1538.4" y1="704.9" x2="1538.4" y2="707.9" stroke="#777" stroke-width="0.9" />
<text x="1537.6" y="720.2" font-family='"Liberation Sans", sans-serif' font-size="8.4" font-weight="normal" font-style="normal" fill="#3a3a3a" text-anchor="start" textLength="13.56" lengthAdjust="spacingAndGlyphs">5.2</text>
<line x1="1569" y1="704.9" x2="1569" y2="707.9" stroke="#777" stroke-width="0.9" />
<text x="1568.2" y="720.2" font-family='"Liberation Sans", sans-serif' font-size="8.4" font-weight="normal" font-style="normal" fill="#3a3a3a" text-anchor="start" textLength="23" lengthAdjust="spacingAndGlyphs">5.525</text>
<line x1="1599.6" y1="704.9" x2="1599.6" y2="707.9" stroke="#777" stroke-width="0.9" />
<text x="1598.8" y="720.2" font-family='"Liberation Sans", sans-serif' font-size="8.4" font-weight="normal" font-style="normal" fill="#3a3a3a" text-anchor="start" textLength="18.28" lengthAdjust="spacingAndGlyphs">5.85</text>
<line x1="1630.2" y1="704.9" x2="1630.2" y2="707.9" stroke="#777" stroke-width="0.9" />
<text x="1629.4" y="720.2" font-family='"Liberation Sans", sans-serif' font-size="8.4" font-weight="normal" font-style="normal" fill="#3a3a3a" text-anchor="start" textLength="23" lengthAdjust="spacingAndGlyphs">6.175</text>
<line x1="1048.5" y1="732.8" x2="1103" y2="732.8" stroke="#a44cb0" stroke-width="1" />
<text x="1111.5" y="735.8" font-family='"Liberation Mono", monospace' font-size="8.2" font-weight="normal" font-style="normal" fill="#111" text-anchor="start" textLength="80.5" lengthAdjust="spacingAndGlyphs">Maximum Intensity</text>
<rect x="1049" y="740" width="7.1" height="7.4" fill="#ff0000" />
<rect x="1060.7" y="740" width="7.1" height="7.4" fill="#0000ff" />
<rect x="1072.4" y="740" width="7.1" height="7.4" fill="#ffff00" />
<rect x="1084.1" y="740" width="7.1" height="7.4" fill="#007800" />
<text x="1095.7" y="746.8" font-family='"Liberation Mono", monospace' font-size="8.2" font-weight="normal" font-style="normal" fill="#111" text-anchor="start" textLength="174.5" lengthAdjust="spacingAndGlyphs">Mean Intensity of corresponding print</text>
<line x1="1614" y1="731.6" x2="1652.5" y2="731.6" stroke="#222" stroke-width="0.9" />
<polygon points="1652.5,731.6 1650,730.4 1650,732.8" fill="#222"/>
<text x="1614" y="742.5" font-family='"Liberation Mono", monospace' font-size="8.2" font-weight="normal" font-style="normal" fill="#111" text-anchor="start" textLength="37.5" lengthAdjust="spacingAndGlyphs">Time (s)</text>
<line x1="993.5" y1="489.7" x2="993.5" y2="534.4" stroke="#222" stroke-width="0.9" />
<polygon points="993.5,489.2 992.3,491.7 994.7,491.7" fill="#222"/>
<text transform="translate(1005 532.9) rotate(-90)" font-family='"Liberation Mono", monospace' font-size="8.2" font-weight="normal" fill="#111" text-anchor="start" textLength="42" lengthAdjust="spacingAndGlyphs">Intensity</text>
<text x="1283.5" y="469.7" font-family='"Liberation Sans", sans-serif' font-size="35.5" font-weight="normal" font-style="normal" fill="#000" text-anchor="start" >Print intensity</text>
<line x1="1054.6" y1="854.2" x2="1054.6" y2="1104.1" stroke="#a9a9a9" stroke-width="1" />
<rect x="1054.3" y="876.4" width="612.8" height="39.3" fill="#778899" />
<line x1="1054.3" y1="900.29" x2="1667.1" y2="900.29" stroke="#5a6979" stroke-width="0.75" />
<line x1="1054.3" y1="884.88" x2="1667.1" y2="884.88" stroke="#5a6979" stroke-width="0.75" />
<polygon points="1054.3,915.7 1054.3,915.7 1077,907.38 1099.69,898.9 1122.39,890.58 1145.09,915.7 1167.78,915.7 1190.48,915.7 1213.17,891.5 1235.87,890.58 1258.57,896.44 1281.26,915.7 1303.96,898.13 1326.66,891.81 1349.35,895.2 1372.05,915.7 1394.74,915.7 1417.44,891.5 1440.14,890.58 1462.83,898.13 1485.53,903.52 1508.23,915.7 1530.92,915.7 1553.62,894.43 1576.31,895.2 1599.01,895.2 1621.71,915.7 1644.4,915.7 1667.1,915.7 1667.1,915.7" fill="#ff0000"/>
<polyline points="1099.69,898.67 1122.39,876.86 1145.09,915.3 1167.78,915.3 1190.48,915.3 1213.17,877.93 1235.87,876.86 1258.57,877.16 1281.26,915.3 1303.96,880.98 1326.66,877.93 1349.35,876.86 1372.05,915.3 1394.74,915.3 1417.44,877.93 1440.14,876.86 1462.83,884.79 1485.53,896.99 1508.23,915.3 1530.92,915.3 1553.62,876.86 1576.31,876.86 1599.01,877.93 1621.71,915.3 1644.4,915.3 1667.1,915.3" fill="none" stroke="#a040a8" stroke-width="1"/>
<text x="1053.7" y="879.5" font-family='"Liberation Sans", sans-serif' font-size="8.8" font-weight="normal" font-style="italic" fill="#222" text-anchor="end" textLength="14.25" lengthAdjust="spacingAndGlyphs">255</text>
<text x="1053.7" y="887.98" font-family='"Liberation Sans", sans-serif' font-size="8.8" font-weight="normal" font-style="italic" fill="#222" text-anchor="end" textLength="14.25" lengthAdjust="spacingAndGlyphs">200</text>
<text x="1053.7" y="903.39" font-family='"Liberation Sans", sans-serif' font-size="8.8" font-weight="normal" font-style="italic" fill="#222" text-anchor="end" textLength="14.25" lengthAdjust="spacingAndGlyphs">100</text>
<text x="1053.7" y="918.8" font-family='"Liberation Sans", sans-serif' font-size="8.8" font-weight="normal" font-style="italic" fill="#222" text-anchor="end" textLength="4.75" lengthAdjust="spacingAndGlyphs">0</text>
<text x="1017.5" y="897.3" font-family='"Liberation Serif", serif' font-size="11" font-weight="bold" font-style="normal" fill="#111" text-anchor="start" stroke="#111" stroke-width="0.3" textLength="11.6" lengthAdjust="spacingAndGlyphs">RF</text>
<rect x="1054.3" y="938.2" width="612.8" height="39.3" fill="#778899" />
<line x1="1054.3" y1="962.09" x2="1667.1" y2="962.09" stroke="#5a6979" stroke-width="0.75" />
<line x1="1054.3" y1="946.68" x2="1667.1" y2="946.68" stroke="#5a6979" stroke-width="0.75" />
<line x1="1054.3" y1="977.2" x2="1099.69" y2="977.2" stroke="#333" stroke-width="0.9" />
<polygon points="1054.3,977.5 1054.3,977.5 1077,977.5 1099.69,977.5 1122.39,977.5 1145.09,953.61 1167.78,957.46 1190.48,955.77 1213.17,955.77 1235.87,977.5 1258.57,977.5 1281.26,954.84 1303.96,955.77 1326.66,955.77 1349.35,977.5 1372.05,957 1394.74,955.77 1417.44,955.77 1440.14,960.39 1462.83,977.5 1485.53,957 1508.23,954.84 1530.92,954.84 1553.62,955.77 1576.31,977.5 1599.01,977.5 1621.71,954.84 1644.4,955.77 1667.1,962.86 1667.1,977.5" fill="#0000ff"/>
<polyline points="1099.69,977.1 1122.39,977.1 1145.09,938.66 1167.78,939.73 1190.48,938.66 1213.17,938.66 1235.87,977.1 1258.57,977.1 1281.26,938.66 1303.96,938.66 1326.66,938.66 1349.35,977.1 1372.05,938.66 1394.74,938.66 1417.44,938.66 1440.14,947.35 1462.83,977.1 1485.53,938.96 1508.23,938.66 1530.92,938.66 1553.62,938.66 1576.31,977.1 1599.01,977.1 1621.71,938.66 1644.4,938.66 1667.1,957.27" fill="none" stroke="#a040a8" stroke-width="1"/>
<text x="1053.7" y="941.3" font-family='"Liberation Sans", sans-serif' font-size="8.8" font-weight="normal" font-style="italic" fill="#222" text-anchor="end" textLength="14.25" lengthAdjust="spacingAndGlyphs">255</text>
<text x="1053.7" y="949.78" font-family='"Liberation Sans", sans-serif' font-size="8.8" font-weight="normal" font-style="italic" fill="#222" text-anchor="end" textLength="14.25" lengthAdjust="spacingAndGlyphs">200</text>
<text x="1053.7" y="965.19" font-family='"Liberation Sans", sans-serif' font-size="8.8" font-weight="normal" font-style="italic" fill="#222" text-anchor="end" textLength="14.25" lengthAdjust="spacingAndGlyphs">100</text>
<text x="1053.7" y="980.6" font-family='"Liberation Sans", sans-serif' font-size="8.8" font-weight="normal" font-style="italic" fill="#222" text-anchor="end" textLength="4.75" lengthAdjust="spacingAndGlyphs">0</text>
<text x="1017.5" y="950.9" font-family='"Liberation Serif", serif' font-size="11" font-weight="bold" font-style="normal" fill="#111" text-anchor="start" stroke="#111" stroke-width="0.3" textLength="12" lengthAdjust="spacingAndGlyphs">RH</text>
<rect x="1054.3" y="1000" width="612.8" height="39.3" fill="#778899" />
<line x1="1054.3" y1="1023.89" x2="1667.1" y2="1023.89" stroke="#5a6979" stroke-width="0.75" />
<line x1="1054.3" y1="1008.48" x2="1667.1" y2="1008.48" stroke="#5a6979" stroke-width="0.75" />
<line x1="1054.3" y1="1039" x2="1099.69" y2="1039" stroke="#333" stroke-width="0.9" />
<polygon points="1054.3,1039.3 1054.3,1039.3 1077,1039.3 1099.69,1039.3 1122.39,1039.3 1145.09,1039.3 1167.78,1014.64 1190.48,1014.64 1213.17,1039.3 1235.87,1039.3 1258.57,1019.57 1281.26,1013.87 1303.96,1017.57 1326.66,1039.3 1349.35,1039.3 1372.05,1014.64 1394.74,1014.64 1417.44,1023.43 1440.14,1039.3 1462.83,1039.3 1485.53,1018.03 1508.23,1016.64 1530.92,1016.64 1553.62,1039.3 1576.31,1039.3 1599.01,1039.3 1621.71,1039.3 1644.4,1039.3 1667.1,1027.12 1667.1,1039.3" fill="#ff00ff"/>
<polyline points="1099.69,1038.9 1122.39,1038.9 1145.09,1038.9 1167.78,1000.46 1190.48,1000.46 1213.17,1038.9 1235.87,1038.9 1258.57,1002.29 1281.26,1000.46 1303.96,1000.46 1326.66,1038.9 1349.35,1038.9 1372.05,1000.46 1394.74,1000.46 1417.44,1003.05 1440.14,1038.9 1462.83,1038.9 1485.53,1000.46 1508.23,1000.46 1530.92,1000.46 1553.62,1038.9 1576.31,1038.9 1599.01,1038.9 1621.71,1038.9 1644.4,1038.9 1667.1,1024.41" fill="none" stroke="#a040a8" stroke-width="1"/>
<text x="1053.7" y="1003.1" font-family='"Liberation Sans", sans-serif' font-size="8.8" font-weight="normal" font-style="italic" fill="#222" text-anchor="end" textLength="14.25" lengthAdjust="spacingAndGlyphs">255</text>
<text x="1053.7" y="1011.58" font-family='"Liberation Sans", sans-serif' font-size="8.8" font-weight="normal" font-style="italic" fill="#222" text-anchor="end" textLength="14.25" lengthAdjust="spacingAndGlyphs">200</text>
<text x="1053.7" y="1026.99" font-family='"Liberation Sans", sans-serif' font-size="8.8" font-weight="normal" font-style="italic" fill="#222" text-anchor="end" textLength="14.25" lengthAdjust="spacingAndGlyphs">100</text>
<text x="1053.7" y="1042.4" font-family='"Liberation Sans", sans-serif' font-size="8.8" font-weight="normal" font-style="italic" fill="#222" text-anchor="end" textLength="4.75" lengthAdjust="spacingAndGlyphs">0</text>
<text x="1017.5" y="1020.5" font-family='"Liberation Serif", serif' font-size="11" font-weight="bold" font-style="normal" fill="#111" text-anchor="start" stroke="#111" stroke-width="0.3" textLength="11.6" lengthAdjust="spacingAndGlyphs">LF</text>
<rect x="1054.3" y="1061.8" width="612.8" height="39.3" fill="#778899" />
<line x1="1054.3" y1="1085.69" x2="1667.1" y2="1085.69" stroke="#5a6979" stroke-width="0.75" />
<line x1="1054.3" y1="1070.28" x2="1667.1" y2="1070.28" stroke="#5a6979" stroke-width="0.75" />
<line x1="1054.3" y1="1100.8" x2="1099.69" y2="1100.8" stroke="#333" stroke-width="0.9" />
<polygon points="1054.3,1101.1 1054.3,1101.1 1077,1101.1 1099.69,1101.1 1122.39,1101.1 1145.09,1101.1 1167.78,1101.1 1190.48,1101.1 1213.17,1085.69 1235.87,1080.14 1258.57,1083.07 1281.26,1088.92 1303.96,1101.1 1326.66,1089.39 1349.35,1078.14 1372.05,1082.76 1394.74,1101.1 1417.44,1101.1 1440.14,1078.91 1462.83,1078.14 1485.53,1081.06 1508.23,1086.92 1530.92,1101.1 1553.62,1079.83 1576.31,1078.14 1599.01,1081.06 1621.71,1101.1 1644.4,1101.1 1667.1,1101.1 1667.1,1101.1" fill="#003c00"/>
<polyline points="1099.69,1100.7 1122.39,1100.7 1145.09,1100.7 1167.78,1100.7 1190.48,1100.7 1213.17,1066.38 1235.87,1062.26 1258.57,1063.33 1281.26,1080.87 1303.96,1100.7 1326.66,1085.45 1349.35,1062.26 1372.05,1064.09 1394.74,1100.7 1417.44,1100.7 1440.14,1062.26 1462.83,1062.26 1485.53,1064.09 1508.23,1077.82 1530.92,1100.7 1553.62,1062.56 1576.31,1062.26 1599.01,1062.26 1621.71,1100.7 1644.4,1100.7 1667.1,1100.7" fill="none" stroke="#a040a8" stroke-width="1"/>
<text x="1053.7" y="1064.9" font-family='"Liberation Sans", sans-serif' font-size="8.8" font-weight="normal" font-style="italic" fill="#222" text-anchor="end" textLength="14.25" lengthAdjust="spacingAndGlyphs">255</text>
<text x="1053.7" y="1073.38" font-family='"Liberation Sans", sans-serif' font-size="8.8" font-weight="normal" font-style="italic" fill="#222" text-anchor="end" textLength="14.25" lengthAdjust="spacingAndGlyphs">200</text>
<text x="1053.7" y="1088.79" font-family='"Liberation Sans", sans-serif' font-size="8.8" font-weight="normal" font-style="italic" fill="#222" text-anchor="end" textLength="14.25" lengthAdjust="spacingAndGlyphs">100</text>
<text x="1053.7" y="1104.2" font-family='"Liberation Sans", sans-serif' font-size="8.8" font-weight="normal" font-style="italic" fill="#222" text-anchor="end" textLength="4.75" lengthAdjust="spacingAndGlyphs">0</text>
<text x="1017.5" y="1082.5" font-family='"Liberation Serif", serif' font-size="11" font-weight="bold" font-style="normal" fill="#111" text-anchor="start" stroke="#111" stroke-width="0.3" textLength="11.6" lengthAdjust="spacingAndGlyphs">LH</text>
<line x1="1054.6" y1="1101.1" x2="1054.6" y2="1104.1" stroke="#777" stroke-width="0.9" />
<text x="1053.8" y="1116" font-family='"Liberation Sans", sans-serif' font-size="8.4" font-weight="normal" font-style="normal" fill="#3a3a3a" text-anchor="start" textLength="4.12" lengthAdjust="spacingAndGlyphs">0</text>
<line x1="1085.22" y1="1101.1" x2="1085.22" y2="1104.1" stroke="#777" stroke-width="0.9" />
<text x="1084.42" y="1116" font-family='"Liberation Sans", sans-serif' font-size="8.4" font-weight="normal" font-style="normal" fill="#3a3a3a" text-anchor="start" textLength="23" lengthAdjust="spacingAndGlyphs">0.325</text>
<line x1="1115.84" y1="1101.1" x2="1115.84" y2="1104.1" stroke="#777" stroke-width="0.9" />
<text x="1115.04" y="1116" font-family='"Liberation Sans", sans-serif' font-size="8.4" font-weight="normal" font-style="normal" fill="#3a3a3a" text-anchor="start" textLength="18.28" lengthAdjust="spacingAndGlyphs">0.65</text>
<line x1="1146.46" y1="1101.1" x2="1146.46" y2="1104.1" stroke="#777" stroke-width="0.9" />
<text x="1145.66" y="1116" font-family='"Liberation Sans", sans-serif' font-size="8.4" font-weight="normal" font-style="normal" fill="#3a3a3a" text-anchor="start" textLength="23" lengthAdjust="spacingAndGlyphs">0.975</text>
<line x1="1177.08" y1="1101.1" x2="1177.08" y2="1104.1" stroke="#777" stroke-width="0.9" />
<text x="1176.28" y="1116" font-family='"Liberation Sans", sans-serif' font-size="8.4" font-weight="normal" font-style="normal" fill="#3a3a3a" text-anchor="start" textLength="13.56" lengthAdjust="spacingAndGlyphs">1.3</text>
<line x1="1207.7" y1="1101.1" x2="1207.7" y2="1104.1" stroke="#777" stroke-width="0.9" />
<text x="1206.9" y="1116" font-family='"Liberation Sans", sans-serif' font-size="8.4" font-weight="normal" font-style="normal" fill="#3a3a3a" text-anchor="start" textLength="23" lengthAdjust="spacingAndGlyphs">1.625</text>
<line x1="1238.32" y1="1101.1" x2="1238.32" y2="1104.1" stroke="#777" stroke-width="0.9" />
<text x="1237.52" y="1116" font-family='"Liberation Sans", sans-serif' font-size="8.4" font-weight="normal" font-style="normal" fill="#3a3a3a" text-anchor="start" textLength="18.28" lengthAdjust="spacingAndGlyphs">1.95</text>
<line x1="1268.94" y1="1101.1" x2="1268.94" y2="1104.1" stroke="#777" stroke-width="0.9" />
<text x="1268.14" y="1116" font-family='"Liberation Sans", sans-serif' font-size="8.4" font-weight="normal" font-style="normal" fill="#3a3a3a" text-anchor="start" textLength="23" lengthAdjust="spacingAndGlyphs">2.275</text>
<line x1="1299.56" y1="1101.1" x2="1299.56" y2="1104.1" stroke="#777" stroke-width="0.9" />
<text x="1298.76" y="1116" font-family='"Liberation Sans", sans-serif' font-size="8.4" font-weight="normal" font-style="normal" fill="#3a3a3a" text-anchor="start" textLength="13.56" lengthAdjust="spacingAndGlyphs">2.6</text>
<line x1="1330.18" y1="1101.1" x2="1330.18" y2="1104.1" stroke="#777" stroke-width="0.9" />
<text x="1329.38" y="1116" font-family='"Liberation Sans", sans-serif' font-size="8.4" font-weight="normal" font-style="normal" fill="#3a3a3a" text-anchor="start" textLength="23" lengthAdjust="spacingAndGlyphs">2.925</text>
<line x1="1360.8" y1="1101.1" x2="1360.8" y2="1104.1" stroke="#777" stroke-width="0.9" />
<text x="1360" y="1116" font-family='"Liberation Sans", sans-serif' font-size="8.4" font-weight="normal" font-style="normal" fill="#3a3a3a" text-anchor="start" textLength="18.28" lengthAdjust="spacingAndGlyphs">3.25</text>
<line x1="1391.42" y1="1101.1" x2="1391.42" y2="1104.1" stroke="#777" stroke-width="0.9" />
<text x="1390.62" y="1116" font-family='"Liberation Sans", sans-serif' font-size="8.4" font-weight="normal" font-style="normal" fill="#3a3a3a" text-anchor="start" textLength="23" lengthAdjust="spacingAndGlyphs">3.575</text>
<line x1="1422.04" y1="1101.1" x2="1422.04" y2="1104.1" stroke="#777" stroke-width="0.9" />
<text x="1421.24" y="1116" font-family='"Liberation Sans", sans-serif' font-size="8.4" font-weight="normal" font-style="normal" fill="#3a3a3a" text-anchor="start" textLength="13.56" lengthAdjust="spacingAndGlyphs">3.9</text>
<line x1="1452.66" y1="1101.1" x2="1452.66" y2="1104.1" stroke="#777" stroke-width="0.9" />
<text x="1451.86" y="1116" font-family='"Liberation Sans", sans-serif' font-size="8.4" font-weight="normal" font-style="normal" fill="#3a3a3a" text-anchor="start" textLength="23" lengthAdjust="spacingAndGlyphs">4.225</text>
<line x1="1483.28" y1="1101.1" x2="1483.28" y2="1104.1" stroke="#777" stroke-width="0.9" />
<text x="1482.48" y="1116" font-family='"Liberation Sans", sans-serif' font-size="8.4" font-weight="normal" font-style="normal" fill="#3a3a3a" text-anchor="start" textLength="18.28" lengthAdjust="spacingAndGlyphs">4.55</text>
<line x1="1513.9" y1="1101.1" x2="1513.9" y2="1104.1" stroke="#777" stroke-width="0.9" />
<text x="1513.1" y="1116" font-family='"Liberation Sans", sans-serif' font-size="8.4" font-weight="normal" font-style="normal" fill="#3a3a3a" text-anchor="start" textLength="23" lengthAdjust="spacingAndGlyphs">4.875</text>
<line x1="1544.52" y1="1101.1" x2="1544.52" y2="1104.1" stroke="#777" stroke-width="0.9" />
<text x="1543.72" y="1116" font-family='"Liberation Sans", sans-serif' font-size="8.4" font-weight="normal" font-style="normal" fill="#3a3a3a" text-anchor="start" textLength="13.56" lengthAdjust="spacingAndGlyphs">5.2</text>
<line x1="1575.14" y1="1101.1" x2="1575.14" y2="1104.1" stroke="#777" stroke-width="0.9" />
<text x="1574.34" y="1116" font-family='"Liberation Sans", sans-serif' font-size="8.4" font-weight="normal" font-style="normal" fill="#3a3a3a" text-anchor="start" textLength="23" lengthAdjust="spacingAndGlyphs">5.525</text>
<line x1="1605.76" y1="1101.1" x2="1605.76" y2="1104.1" stroke="#777" stroke-width="0.9" />
<text x="1604.96" y="1116" font-family='"Liberation Sans", sans-serif' font-size="8.4" font-weight="normal" font-style="normal" fill="#3a3a3a" text-anchor="start" textLength="18.28" lengthAdjust="spacingAndGlyphs">5.85</text>
<line x1="1636.38" y1="1101.1" x2="1636.38" y2="1104.1" stroke="#777" stroke-width="0.9" />
<text x="1635.58" y="1116" font-family='"Liberation Sans", sans-serif' font-size="8.4" font-weight="normal" font-style="normal" fill="#3a3a3a" text-anchor="start" textLength="23" lengthAdjust="spacingAndGlyphs">6.175</text>
<line x1="1054.3" y1="1129" x2="1108.8" y2="1129" stroke="#a44cb0" stroke-width="1" />
<text x="1117.3" y="1132" font-family='"Liberation Mono", monospace' font-size="8.2" font-weight="normal" font-style="normal" fill="#111" text-anchor="start" textLength="80.5" lengthAdjust="spacingAndGlyphs">Maximum Intensity</text>
<rect x="1054.8" y="1136.2" width="7.1" height="7.5" fill="#ff0000" />
<rect x="1066.5" y="1136.2" width="7.1" height="7.5" fill="#0000ff" />
<rect x="1078.2" y="1136.2" width="7.1" height="7.5" fill="#ffff00" />
<rect x="1089.9" y="1136.2" width="7.1" height="7.5" fill="#007800" />
<text x="1101.5" y="1143.1" font-family='"Liberation Mono", monospace' font-size="8.2" font-weight="normal" font-style="normal" fill="#111" text-anchor="start" textLength="174.5" lengthAdjust="spacingAndGlyphs">Mean Intensity of corresponding print</text>
<line x1="1620" y1="1127.8" x2="1658.5" y2="1127.8" stroke="#222" stroke-width="0.9" />
<polygon points="1658.5,1127.8 1656,1126.6 1656,1129" fill="#222"/>
<text x="1620" y="1138.7" font-family='"Liberation Mono", monospace' font-size="8.2" font-weight="normal" font-style="normal" fill="#111" text-anchor="start" textLength="37.5" lengthAdjust="spacingAndGlyphs">Time (s)</text>
<line x1="998.8" y1="885" x2="998.8" y2="930" stroke="#222" stroke-width="0.9" />
<polygon points="998.8,884.5 997.6,887 1000,887" fill="#222"/>
<text transform="translate(1010.3 928.5) rotate(-90)" font-family='"Liberation Mono", monospace' font-size="8.2" font-weight="normal" fill="#111" text-anchor="start" textLength="42" lengthAdjust="spacingAndGlyphs">Intensity</text>
<text x="1283.5" y="868.4" font-family='"Liberation Sans", sans-serif' font-size="35.5" font-weight="normal" font-style="normal" fill="#000" text-anchor="start" >Print intensity</text>
<g transform="translate(0 0)">
<path d="M272.75 1614.2 V1439.25 H381.75 V1614.2" fill="none" stroke="#0000c8" stroke-width="8.5" stroke-linejoin="bevel"/>
<path d="M438.25 1614.2 V1461.75 H547.25 V1614.2" fill="none" stroke="#9c0000" stroke-width="8.5" stroke-linejoin="bevel"/>
<path d="M604.25 1614.2 V1452.75 H713.75 V1614.2" fill="none" stroke="#008200" stroke-width="8.5" stroke-linejoin="bevel"/>
<line x1="244.8" y1="1281.05" x2="244.8" y2="1616.15" stroke="#000" stroke-width="3.9" />
<line x1="235" y1="1614.2" x2="742.5" y2="1614.2" stroke="#000" stroke-width="3.9" />
<line x1="234.8" y1="1283" x2="244.8" y2="1283" stroke="#000" stroke-width="3.9" />
<text x="231.3" y="1292.55" font-family='"Liberation Sans", sans-serif' font-size="25.8" font-weight="bold" font-style="normal" fill="#000" text-anchor="end" >1.4</text>
<line x1="234.8" y1="1365.8" x2="244.8" y2="1365.8" stroke="#000" stroke-width="3.9" />
<text x="231.3" y="1375.35" font-family='"Liberation Sans", sans-serif' font-size="25.8" font-weight="bold" font-style="normal" fill="#000" text-anchor="end" >1.2</text>
<line x1="234.8" y1="1448.6" x2="244.8" y2="1448.6" stroke="#000" stroke-width="3.9" />
<text x="231.3" y="1458.15" font-family='"Liberation Sans", sans-serif' font-size="25.8" font-weight="bold" font-style="normal" fill="#000" text-anchor="end" >1.0</text>
<line x1="234.8" y1="1531.4" x2="244.8" y2="1531.4" stroke="#000" stroke-width="3.9" />
<text x="231.3" y="1540.95" font-family='"Liberation Sans", sans-serif' font-size="25.8" font-weight="bold" font-style="normal" fill="#000" text-anchor="end" >0.8</text>
<line x1="234.8" y1="1614.2" x2="244.8" y2="1614.2" stroke="#000" stroke-width="3.9" />
<text x="231.3" y="1623.75" font-family='"Liberation Sans", sans-serif' font-size="25.8" font-weight="bold" font-style="normal" fill="#000" text-anchor="end" >0.6</text>
<line x1="327" y1="1614.2" x2="327" y2="1623.7" stroke="#000" stroke-width="3.9" />
<line x1="493" y1="1614.2" x2="493" y2="1623.7" stroke="#000" stroke-width="3.9" />
<line x1="658.5" y1="1614.2" x2="658.5" y2="1623.7" stroke="#000" stroke-width="3.9" />
<circle cx="327.5" cy="1333.5" r="5.2" fill="#fff" stroke="#0000c8" stroke-width="3.9"/>
<circle cx="327.5" cy="1379.5" r="5.2" fill="#fff" stroke="#0000c8" stroke-width="3.9"/>
<circle cx="327.5" cy="1432.5" r="5.2" fill="#fff" stroke="#0000c8" stroke-width="3.9"/>
<circle cx="336" cy="1450" r="5.2" fill="#fff" stroke="#0000c8" stroke-width="3.9"/>
<circle cx="319" cy="1453.5" r="5.2" fill="#fff" stroke="#0000c8" stroke-width="3.9"/>
<circle cx="327.5" cy="1480" r="5.2" fill="#fff" stroke="#0000c8" stroke-width="3.9"/>
<circle cx="336" cy="1489.5" r="5.2" fill="#fff" stroke="#0000c8" stroke-width="3.9"/>
<circle cx="320" cy="1498" r="5.2" fill="#fff" stroke="#0000c8" stroke-width="3.9"/>
<circle cx="493" cy="1370" r="5.2" fill="#fff" stroke="#9c0000" stroke-width="3.9"/>
<circle cx="493" cy="1412.5" r="5.2" fill="#fff" stroke="#9c0000" stroke-width="3.9"/>
<circle cx="493" cy="1439" r="5.2" fill="#fff" stroke="#9c0000" stroke-width="3.9"/>
<circle cx="493" cy="1465" r="5.2" fill="#fff" stroke="#9c0000" stroke-width="3.9"/>
<circle cx="501" cy="1473" r="5.2" fill="#fff" stroke="#9c0000" stroke-width="3.9"/>
<circle cx="485" cy="1486" r="5.2" fill="#fff" stroke="#9c0000" stroke-width="3.9"/>
<circle cx="493" cy="1516" r="5.2" fill="#fff" stroke="#9c0000" stroke-width="3.9"/>
<circle cx="493" cy="1531" r="5.2" fill="#fff" stroke="#9c0000" stroke-width="3.9"/>
<circle cx="658.5" cy="1333.5" r="5.2" fill="#fff" stroke="#008200" stroke-width="3.9"/>
<circle cx="666.5" cy="1434.5" r="5.2" fill="#fff" stroke="#008200" stroke-width="3.9"/>
<circle cx="651" cy="1440.5" r="5.2" fill="#fff" stroke="#008200" stroke-width="3.9"/>
<circle cx="674" cy="1467" r="5.2" fill="#fff" stroke="#008200" stroke-width="3.9"/>
<circle cx="643" cy="1471" r="5.2" fill="#fff" stroke="#008200" stroke-width="3.9"/>
<circle cx="658.5" cy="1476.5" r="5.2" fill="#fff" stroke="#008200" stroke-width="3.9"/>
<circle cx="666.5" cy="1494" r="5.2" fill="#fff" stroke="#008200" stroke-width="3.9"/>
<circle cx="651" cy="1500.5" r="5.2" fill="#fff" stroke="#008200" stroke-width="3.9"/>
<line x1="327.5" y1="1382.5" x2="327.5" y2="1496.5" stroke="#0000c8" stroke-width="2" />
<line x1="300" y1="1382.5" x2="354" y2="1382.5" stroke="#0000c8" stroke-width="2" />
<line x1="300" y1="1496.5" x2="354" y2="1496.5" stroke="#0000c8" stroke-width="2" />
<line x1="493" y1="1407.5" x2="493" y2="1514" stroke="#9c0000" stroke-width="2" />
<line x1="466" y1="1407.5" x2="520" y2="1407.5" stroke="#9c0000" stroke-width="2" />
<line x1="466" y1="1514" x2="520" y2="1514" stroke="#9c0000" stroke-width="2" />
<line x1="658.5" y1="1399" x2="658.5" y2="1505" stroke="#008200" stroke-width="2" />
<line x1="631" y1="1399" x2="686" y2="1399" stroke="#008200" stroke-width="2" />
<line x1="631" y1="1505" x2="686" y2="1505" stroke="#008200" stroke-width="2" />
<line x1="317.5" y1="1320.5" x2="497.5" y2="1320.5" stroke="#000" stroke-width="4" />
<text x="409.5" y="1312" font-family='"Liberation Sans", sans-serif' font-size="25" font-weight="normal" font-style="normal" fill="#000" text-anchor="middle" >N.S</text>
<line x1="495" y1="1304.5" x2="688.5" y2="1304.5" stroke="#000" stroke-width="4" />
<text x="591.7" y="1294" font-family='"Liberation Sans", sans-serif' font-size="25" font-weight="normal" font-style="normal" fill="#000" text-anchor="middle" >N.S</text>
<text transform="translate(181.3 1448.5) rotate(-90)" font-family='"Liberation Sans", sans-serif' font-size="27.2" font-weight="normal" fill="#000" text-anchor="middle" >Print Area (LH/RH)</text>
<text transform="translate(335 1644.5) rotate(-45)" font-family='"Liberation Sans", sans-serif' font-size="23.1" font-weight="normal" fill="#000" text-anchor="end" >Sham</text>
<text transform="translate(501 1644.5) rotate(-45)" font-family='"Liberation Sans", sans-serif' font-size="23.1" font-weight="normal" fill="#000" text-anchor="end" >CFA</text>
<text transform="translate(666.5 1644.5) rotate(-45)" font-family='"Liberation Sans", sans-serif' font-size="23.1" font-weight="normal" fill="#000" text-anchor="end" >CFA+CAT</text>
</g>
<g transform="translate(0 1)">
<path d="M1160.9 1619 V1402.4 H1278.1 V1619" fill="none" stroke="#0000c8" stroke-width="8.8" stroke-linejoin="bevel"/>
<path d="M1337.4 1619 V1505.9 H1454.6 V1619" fill="none" stroke="#9c0000" stroke-width="8.8" stroke-linejoin="bevel"/>
<path d="M1514.4 1619 V1422.9 H1631.6 V1619" fill="none" stroke="#008200" stroke-width="8.8" stroke-linejoin="bevel"/>
<line x1="1131" y1="1262.9" x2="1131" y2="1621.1" stroke="#000" stroke-width="4.2" />
<line x1="1121.5" y1="1619" x2="1664" y2="1619" stroke="#000" stroke-width="4.2" />
<line x1="1121" y1="1265" x2="1131" y2="1265" stroke="#000" stroke-width="4.2" />
<text x="1117.5" y="1273.67" font-family='"Liberation Sans", sans-serif' font-size="27" font-weight="bold" font-style="normal" fill="#000" text-anchor="end" >1.2</text>
<line x1="1121" y1="1353.5" x2="1131" y2="1353.5" stroke="#000" stroke-width="4.2" />
<text x="1117.5" y="1362.17" font-family='"Liberation Sans", sans-serif' font-size="27" font-weight="bold" font-style="normal" fill="#000" text-anchor="end" >1.1</text>
<line x1="1121" y1="1442" x2="1131" y2="1442" stroke="#000" stroke-width="4.2" />
<text x="1117.5" y="1450.67" font-family='"Liberation Sans", sans-serif' font-size="27" font-weight="bold" font-style="normal" fill="#000" text-anchor="end" >1.0</text>
<line x1="1121" y1="1530.5" x2="1131" y2="1530.5" stroke="#000" stroke-width="4.2" />
<text x="1117.5" y="1539.17" font-family='"Liberation Sans", sans-serif' font-size="27" font-weight="bold" font-style="normal" fill="#000" text-anchor="end" >0.9</text>
<line x1="1121" y1="1619" x2="1131" y2="1619" stroke="#000" stroke-width="4.2" />
<text x="1117.5" y="1627.67" font-family='"Liberation Sans", sans-serif' font-size="27" font-weight="bold" font-style="normal" fill="#000" text-anchor="end" >0.8</text>
<line x1="1219" y1="1619" x2="1219" y2="1629" stroke="#000" stroke-width="4.2" />
<line x1="1396" y1="1619" x2="1396" y2="1629" stroke="#000" stroke-width="4.2" />
<line x1="1573" y1="1619" x2="1573" y2="1629" stroke="#000" stroke-width="4.2" />
<circle cx="1211.5" cy="1339.5" r="5.3" fill="#fff" stroke="#0000c8" stroke-width="3.9"/>
<circle cx="1228" cy="1335" r="5.3" fill="#fff" stroke="#0000c8" stroke-width="3.9"/>
<circle cx="1219" cy="1386.5" r="5.3" fill="#fff" stroke="#0000c8" stroke-width="3.9"/>
<circle cx="1228" cy="1391" r="5.3" fill="#fff" stroke="#0000c8" stroke-width="3.9"/>
<circle cx="1211.5" cy="1404" r="5.3" fill="#fff" stroke="#0000c8" stroke-width="3.9"/>
<circle cx="1219" cy="1427" r="5.3" fill="#fff" stroke="#0000c8" stroke-width="3.9"/>
<circle cx="1228" cy="1459.5" r="5.3" fill="#fff" stroke="#0000c8" stroke-width="3.9"/>
<circle cx="1211.5" cy="1465.5" r="5.3" fill="#fff" stroke="#0000c8" stroke-width="3.9"/>
<circle cx="1405" cy="1449" r="5.3" fill="#fff" stroke="#9c0000" stroke-width="3.9"/>
<circle cx="1388" cy="1460.5" r="5.3" fill="#fff" stroke="#9c0000" stroke-width="3.9"/>
<circle cx="1396" cy="1481" r="5.3" fill="#fff" stroke="#9c0000" stroke-width="3.9"/>
<circle cx="1372.5" cy="1498.5" r="5.3" fill="#fff" stroke="#9c0000" stroke-width="3.9"/>
<circle cx="1420" cy="1497.5" r="5.3" fill="#fff" stroke="#9c0000" stroke-width="3.9"/>
<circle cx="1405" cy="1506.5" r="5.3" fill="#fff" stroke="#9c0000" stroke-width="3.9"/>
<circle cx="1388" cy="1513.5" r="5.3" fill="#fff" stroke="#9c0000" stroke-width="3.9"/>
<circle cx="1388" cy="1533" r="5.3" fill="#fff" stroke="#9c0000" stroke-width="3.9"/>
<circle cx="1404" cy="1546" r="5.3" fill="#fff" stroke="#9c0000" stroke-width="3.9"/>
<circle cx="1396" cy="1563.5" r="5.3" fill="#fff" stroke="#9c0000" stroke-width="3.9"/>
<circle cx="1573" cy="1335" r="5.3" fill="#fff" stroke="#008200" stroke-width="3.9"/>
<circle cx="1573" cy="1377.5" r="5.3" fill="#fff" stroke="#008200" stroke-width="3.9"/>
<circle cx="1557" cy="1408.5" r="5.3" fill="#fff" stroke="#008200" stroke-width="3.9"/>
<circle cx="1589" cy="1410" r="5.3" fill="#fff" stroke="#008200" stroke-width="3.9"/>
<circle cx="1573" cy="1414" r="5.3" fill="#fff" stroke="#008200" stroke-width="3.9"/>
<circle cx="1565" cy="1438.5" r="5.3" fill="#fff" stroke="#008200" stroke-width="3.9"/>
<circle cx="1581" cy="1447.5" r="5.3" fill="#fff" stroke="#008200" stroke-width="3.9"/>
<circle cx="1573" cy="1554" r="5.3" fill="#fff" stroke="#008200" stroke-width="3.9"/>
<line x1="1219" y1="1351.5" x2="1219" y2="1449.5" stroke="#0000c8" stroke-width="2.1" />
<line x1="1190" y1="1351.5" x2="1249" y2="1351.5" stroke="#0000c8" stroke-width="2.1" />
<line x1="1190" y1="1449.5" x2="1249" y2="1449.5" stroke="#0000c8" stroke-width="2.1" />
<line x1="1396" y1="1468.5" x2="1396" y2="1541.5" stroke="#9c0000" stroke-width="2.1" />
<line x1="1367" y1="1468.5" x2="1426" y2="1468.5" stroke="#9c0000" stroke-width="2.1" />
<line x1="1367" y1="1541.5" x2="1426" y2="1541.5" stroke="#9c0000" stroke-width="2.1" />
<line x1="1573" y1="1359.5" x2="1573" y2="1486.5" stroke="#008200" stroke-width="2.1" />
<line x1="1543.5" y1="1359.5" x2="1603" y2="1359.5" stroke="#008200" stroke-width="2.1" />
<line x1="1543.5" y1="1486.5" x2="1603" y2="1486.5" stroke="#008200" stroke-width="2.1" />
<line x1="1191.5" y1="1315" x2="1414" y2="1315" stroke="#000" stroke-width="4.2" />
<text x="1306.9" y="1311.4" font-family='"Liberation Sans", sans-serif' font-size="30" font-weight="bold" font-style="normal" fill="#9c0000" text-anchor="middle" >***</text>
<line x1="1424" y1="1295" x2="1609" y2="1295" stroke="#000" stroke-width="4.2" />
<text x="1523.8" y="1291.7" font-family='"Liberation Sans", sans-serif' font-size="30" font-weight="bold" font-style="normal" fill="#008200" text-anchor="middle" >**</text>
<text transform="translate(1061.5 1442) rotate(-90)" font-family='"Liberation Sans", sans-serif' font-size="29" font-weight="normal" fill="#000" text-anchor="middle" >Mean intensity (LH/RH)</text>
<text transform="translate(1227 1651) rotate(-45)" font-family='"Liberation Sans", sans-serif' font-size="24.8" font-weight="normal" fill="#000" text-anchor="end" >Sham</text>
<text transform="translate(1404.5 1651) rotate(-45)" font-family='"Liberation Sans", sans-serif' font-size="24.8" font-weight="normal" fill="#000" text-anchor="end" >CFA</text>
<text transform="translate(1581 1651) rotate(-45)" font-family='"Liberation Sans", sans-serif' font-size="24.8" font-weight="normal" fill="#000" text-anchor="end" >CFA+CAT</text>
</g>
<g transform="translate(0 0.7)">
<path d="M264.4 2133 V1994.4 H381.6 V2133" fill="none" stroke="#0000c8" stroke-width="8.8" stroke-linejoin="bevel"/>
<path d="M441.4 2133 V1921.9 H559.1 V2133" fill="none" stroke="#9c0000" stroke-width="8.8" stroke-linejoin="bevel"/>
<path d="M618.4 2133 V1996.9 H736.1 V2133" fill="none" stroke="#008200" stroke-width="8.8" stroke-linejoin="bevel"/>
<line x1="234.8" y1="1776.9" x2="234.8" y2="2135.1" stroke="#000" stroke-width="4.2" />
<line x1="225" y1="2133" x2="767.5" y2="2133" stroke="#000" stroke-width="4.2" />
<line x1="224.8" y1="1779" x2="234.8" y2="1779" stroke="#000" stroke-width="4.2" />
<text x="221.3" y="1787.67" font-family='"Liberation Sans", sans-serif' font-size="27" font-weight="bold" font-style="normal" fill="#000" text-anchor="end" >2.5</text>
<line x1="224.8" y1="1850" x2="234.8" y2="1850" stroke="#000" stroke-width="4.2" />
<text x="221.3" y="1858.67" font-family='"Liberation Sans", sans-serif' font-size="27" font-weight="bold" font-style="normal" fill="#000" text-anchor="end" >2.0</text>
<line x1="224.8" y1="1920.5" x2="234.8" y2="1920.5" stroke="#000" stroke-width="4.2" />
<text x="221.3" y="1929.17" font-family='"Liberation Sans", sans-serif' font-size="27" font-weight="bold" font-style="normal" fill="#000" text-anchor="end" >1.5</text>
<line x1="224.8" y1="1991.5" x2="234.8" y2="1991.5" stroke="#000" stroke-width="4.2" />
<text x="221.3" y="2000.17" font-family='"Liberation Sans", sans-serif' font-size="27" font-weight="bold" font-style="normal" fill="#000" text-anchor="end" >1.0</text>
<line x1="224.8" y1="2062.5" x2="234.8" y2="2062.5" stroke="#000" stroke-width="4.2" />
<text x="221.3" y="2071.17" font-family='"Liberation Sans", sans-serif' font-size="27" font-weight="bold" font-style="normal" fill="#000" text-anchor="end" >0.5</text>
<line x1="224.8" y1="2133" x2="234.8" y2="2133" stroke="#000" stroke-width="4.2" />
<text x="221.3" y="2141.67" font-family='"Liberation Sans", sans-serif' font-size="27" font-weight="bold" font-style="normal" fill="#000" text-anchor="end" >0.0</text>
<line x1="323" y1="2133" x2="323" y2="2143" stroke="#000" stroke-width="4.2" />
<line x1="500" y1="2133" x2="500" y2="2143" stroke="#000" stroke-width="4.2" />
<line x1="677" y1="2133" x2="677" y2="2143" stroke="#000" stroke-width="4.2" />
<circle cx="323" cy="1920.5" r="5.3" fill="#fff" stroke="#0000c8" stroke-width="3.9"/>
<circle cx="291.5" cy="1991.5" r="5.3" fill="#fff" stroke="#0000c8" stroke-width="3.9"/>
<circle cx="307.5" cy="1991.5" r="5.3" fill="#fff" stroke="#0000c8" stroke-width="3.9"/>
<circle cx="323" cy="1991.5" r="5.3" fill="#fff" stroke="#0000c8" stroke-width="3.9"/>
<circle cx="339" cy="1991.5" r="5.3" fill="#fff" stroke="#0000c8" stroke-width="3.9"/>
<circle cx="355" cy="1991.5" r="5.3" fill="#fff" stroke="#0000c8" stroke-width="3.9"/>
<circle cx="323" cy="2077" r="5.3" fill="#fff" stroke="#0000c8" stroke-width="3.9"/>
<circle cx="500" cy="1849.5" r="5.3" fill="#fff" stroke="#9c0000" stroke-width="3.9"/>
<circle cx="460.5" cy="1920.5" r="5.3" fill="#fff" stroke="#9c0000" stroke-width="3.9"/>
<circle cx="476.5" cy="1920.5" r="5.3" fill="#fff" stroke="#9c0000" stroke-width="3.9"/>
<circle cx="492.5" cy="1920.5" r="5.3" fill="#fff" stroke="#9c0000" stroke-width="3.9"/>
<circle cx="508.5" cy="1920.5" r="5.3" fill="#fff" stroke="#9c0000" stroke-width="3.9"/>
<circle cx="524.5" cy="1920.5" r="5.3" fill="#fff" stroke="#9c0000" stroke-width="3.9"/>
<circle cx="540.5" cy="1920.5" r="5.3" fill="#fff" stroke="#9c0000" stroke-width="3.9"/>
<circle cx="500" cy="1992" r="5.3" fill="#fff" stroke="#9c0000" stroke-width="3.9"/>
<circle cx="677" cy="1920.5" r="5.3" fill="#fff" stroke="#008200" stroke-width="3.9"/>
<circle cx="661" cy="1991.5" r="5.3" fill="#fff" stroke="#008200" stroke-width="3.9"/>
<circle cx="677" cy="1991.5" r="5.3" fill="#fff" stroke="#008200" stroke-width="3.9"/>
<circle cx="693" cy="1991.5" r="5.3" fill="#fff" stroke="#008200" stroke-width="3.9"/>
<circle cx="669" cy="2039.5" r="5.3" fill="#fff" stroke="#008200" stroke-width="3.9"/>
<circle cx="685" cy="2039.5" r="5.3" fill="#fff" stroke="#008200" stroke-width="3.9"/>
<line x1="323" y1="1948.5" x2="323" y2="2039.5" stroke="#0000c8" stroke-width="2.1" />
<line x1="293.5" y1="1948.5" x2="352.5" y2="1948.5" stroke="#0000c8" stroke-width="2.1" />
<line x1="293.5" y1="2039.5" x2="352.5" y2="2039.5" stroke="#0000c8" stroke-width="2.1" />
<line x1="500" y1="1883" x2="500" y2="1959" stroke="#9c0000" stroke-width="2.1" />
<line x1="470.5" y1="1883" x2="529.5" y2="1883" stroke="#9c0000" stroke-width="2.1" />
<line x1="470.5" y1="1959" x2="529.5" y2="1959" stroke="#9c0000" stroke-width="2.1" />
<line x1="677" y1="1952.5" x2="677" y2="2039.5" stroke="#008200" stroke-width="2.1" />
<line x1="648" y1="1952.5" x2="707" y2="1952.5" stroke="#008200" stroke-width="2.1" />
<line x1="648" y1="2039.5" x2="707" y2="2039.5" stroke="#008200" stroke-width="2.1" />
<line x1="288.5" y1="1822.5" x2="502.5" y2="1822.5" stroke="#000" stroke-width="4.2" />
<text x="400" y="1823.8" font-family='"Liberation Sans", sans-serif' font-size="30" font-weight="bold" font-style="normal" fill="#9c0000" text-anchor="middle" >**</text>
<line x1="499" y1="1807.5" x2="715" y2="1807.5" stroke="#000" stroke-width="4.2" />
<text x="610.3" y="1807.3" font-family='"Liberation Sans", sans-serif' font-size="30" font-weight="bold" font-style="normal" fill="#008200" text-anchor="middle" >**</text>
<text transform="translate(168.2 1956.5) rotate(-90)" font-family='"Liberation Sans", sans-serif' font-size="29.3" font-weight="normal" fill="#000" text-anchor="middle" >Swing (LH/RH)</text>
<text transform="translate(331.5 2165.3) rotate(-45)" font-family='"Liberation Sans", sans-serif' font-size="24.8" font-weight="normal" fill="#000" text-anchor="end" >Sham</text>
<text transform="translate(508.5 2165.3) rotate(-45)" font-family='"Liberation Sans", sans-serif' font-size="24.8" font-weight="normal" fill="#000" text-anchor="end" >CFA</text>
<text transform="translate(685 2165.3) rotate(-45)" font-family='"Liberation Sans", sans-serif' font-size="24.8" font-weight="normal" fill="#000" text-anchor="end" >CFA+CAT</text>
</g>
<g transform="translate(0 0.7)">
<path d="M1159.4 2133 V1955.9 H1274.6 V2133" fill="none" stroke="#0000c8" stroke-width="8.8" stroke-linejoin="bevel"/>
<path d="M1333.9 2133 V2022.9 H1449.1 V2133" fill="none" stroke="#9c0000" stroke-width="8.8" stroke-linejoin="bevel"/>
<path d="M1508.4 2133 V1938.4 H1623.1 V2133" fill="none" stroke="#008200" stroke-width="8.8" stroke-linejoin="bevel"/>
<line x1="1131" y1="1780.5" x2="1131" y2="2135.1" stroke="#000" stroke-width="4.2" />
<line x1="1121.5" y1="2133" x2="1655.5" y2="2133" stroke="#000" stroke-width="4.2" />
<line x1="1121" y1="1782.6" x2="1131" y2="1782.6" stroke="#000" stroke-width="4.2" />
<text x="1117.5" y="1791.27" font-family='"Liberation Sans", sans-serif' font-size="27" font-weight="bold" font-style="normal" fill="#000" text-anchor="end" >2.0</text>
<line x1="1121" y1="1870.2" x2="1131" y2="1870.2" stroke="#000" stroke-width="4.2" />
<text x="1117.5" y="1878.87" font-family='"Liberation Sans", sans-serif' font-size="27" font-weight="bold" font-style="normal" fill="#000" text-anchor="end" >1.5</text>
<line x1="1121" y1="1957.8" x2="1131" y2="1957.8" stroke="#000" stroke-width="4.2" />
<text x="1117.5" y="1966.47" font-family='"Liberation Sans", sans-serif' font-size="27" font-weight="bold" font-style="normal" fill="#000" text-anchor="end" >1.0</text>
<line x1="1121" y1="2045.4" x2="1131" y2="2045.4" stroke="#000" stroke-width="4.2" />
<text x="1117.5" y="2054.07" font-family='"Liberation Sans", sans-serif' font-size="27" font-weight="bold" font-style="normal" fill="#000" text-anchor="end" >0.5</text>
<line x1="1121" y1="2133" x2="1131" y2="2133" stroke="#000" stroke-width="4.2" />
<text x="1117.5" y="2141.67" font-family='"Liberation Sans", sans-serif' font-size="27" font-weight="bold" font-style="normal" fill="#000" text-anchor="end" >0.0</text>
<line x1="1217" y1="2133" x2="1217" y2="2143" stroke="#000" stroke-width="4.2" />
<line x1="1391.5" y1="2133" x2="1391.5" y2="2143" stroke="#000" stroke-width="4.2" />
<line x1="1565.5" y1="2133" x2="1565.5" y2="2143" stroke="#000" stroke-width="4.2" />
<circle cx="1225.5" cy="1930" r="5.3" fill="#fff" stroke="#0000c8" stroke-width="3.9"/>
<circle cx="1201.5" cy="1939.5" r="5.3" fill="#fff" stroke="#0000c8" stroke-width="3.9"/>
<circle cx="1209.5" cy="1947.5" r="5.3" fill="#fff" stroke="#0000c8" stroke-width="3.9"/>
<circle cx="1233" cy="1957.5" r="5.3" fill="#fff" stroke="#0000c8" stroke-width="3.9"/>
<circle cx="1225.5" cy="1972" r="5.3" fill="#fff" stroke="#0000c8" stroke-width="3.9"/>
<circle cx="1209.5" cy="1986.5" r="5.3" fill="#fff" stroke="#0000c8" stroke-width="3.9"/>
<circle cx="1415.5" cy="2009" r="5.3" fill="#fff" stroke="#9c0000" stroke-width="3.9"/>
<circle cx="1360" cy="2012" r="5.3" fill="#fff" stroke="#9c0000" stroke-width="3.9"/>
<circle cx="1375.5" cy="2015" r="5.3" fill="#fff" stroke="#9c0000" stroke-width="3.9"/>
<circle cx="1399.5" cy="2014" r="5.3" fill="#fff" stroke="#9c0000" stroke-width="3.9"/>
<circle cx="1383.5" cy="2021" r="5.3" fill="#fff" stroke="#9c0000" stroke-width="3.9"/>
<circle cx="1399.5" cy="2032" r="5.3" fill="#fff" stroke="#9c0000" stroke-width="3.9"/>
<circle cx="1391.5" cy="2052.5" r="5.3" fill="#fff" stroke="#9c0000" stroke-width="3.9"/>
<circle cx="1565.5" cy="1835" r="5.3" fill="#fff" stroke="#008200" stroke-width="3.9"/>
<circle cx="1565.5" cy="1859.5" r="5.3" fill="#fff" stroke="#008200" stroke-width="3.9"/>
<circle cx="1565.5" cy="1957.5" r="5.3" fill="#fff" stroke="#008200" stroke-width="3.9"/>
<circle cx="1557.5" cy="1972" r="5.3" fill="#fff" stroke="#008200" stroke-width="3.9"/>
<circle cx="1573.5" cy="1976.5" r="5.3" fill="#fff" stroke="#008200" stroke-width="3.9"/>
<circle cx="1565.5" cy="2023" r="5.3" fill="#fff" stroke="#008200" stroke-width="3.9"/>
<line x1="1217" y1="1934" x2="1217" y2="1976.5" stroke="#0000c8" stroke-width="2.1" />
<line x1="1188" y1="1934" x2="1246.5" y2="1934" stroke="#0000c8" stroke-width="2.1" />
<line x1="1188" y1="1976.5" x2="1246.5" y2="1976.5" stroke="#0000c8" stroke-width="2.1" />
<line x1="1391.5" y1="2007.5" x2="1391.5" y2="2037.5" stroke="#9c0000" stroke-width="2.1" />
<line x1="1362.5" y1="2007.5" x2="1421" y2="2007.5" stroke="#9c0000" stroke-width="2.1" />
<line x1="1362.5" y1="2037.5" x2="1421" y2="2037.5" stroke="#9c0000" stroke-width="2.1" />
<line x1="1565.5" y1="1863.5" x2="1565.5" y2="2010.5" stroke="#008200" stroke-width="2.1" />
<line x1="1536.5" y1="1863.5" x2="1595" y2="1863.5" stroke="#008200" stroke-width="2.1" />
<line x1="1536.5" y1="2010.5" x2="1595" y2="2010.5" stroke="#008200" stroke-width="2.1" />
<line x1="1190" y1="1847" x2="1404" y2="1847" stroke="#000" stroke-width="4.2" />
<text x="1305" y="1847.3" font-family='"Liberation Sans", sans-serif' font-size="30" font-weight="bold" font-style="normal" fill="#9c0000" text-anchor="middle" >*</text>
<line x1="1400.5" y1="1819" x2="1600.5" y2="1819" stroke="#000" stroke-width="4.2" />
<text x="1503.3" y="1820.3" font-family='"Liberation Sans", sans-serif' font-size="30" font-weight="bold" font-style="normal" fill="#008200" text-anchor="middle" >**</text>
<text transform="translate(1059 1957.5) rotate(-90)" font-family='"Liberation Sans", sans-serif' font-size="28.5" font-weight="normal" fill="#000" text-anchor="middle" >Swing Speed (LH/RH)</text>
<text transform="translate(1225.5 2165.3) rotate(-45)" font-family='"Liberation Sans", sans-serif' font-size="24.8" font-weight="normal" fill="#000" text-anchor="end" >Sham</text>
<text transform="translate(1400 2165.3) rotate(-45)" font-family='"Liberation Sans", sans-serif' font-size="24.8" font-weight="normal" fill="#000" text-anchor="end" >CFA</text>
<text transform="translate(1573.5 2165.3) rotate(-45)" font-family='"Liberation Sans", sans-serif' font-size="24.8" font-weight="normal" fill="#000" text-anchor="end" >CFA+CAT</text>
</g>
</svg></body></html>
